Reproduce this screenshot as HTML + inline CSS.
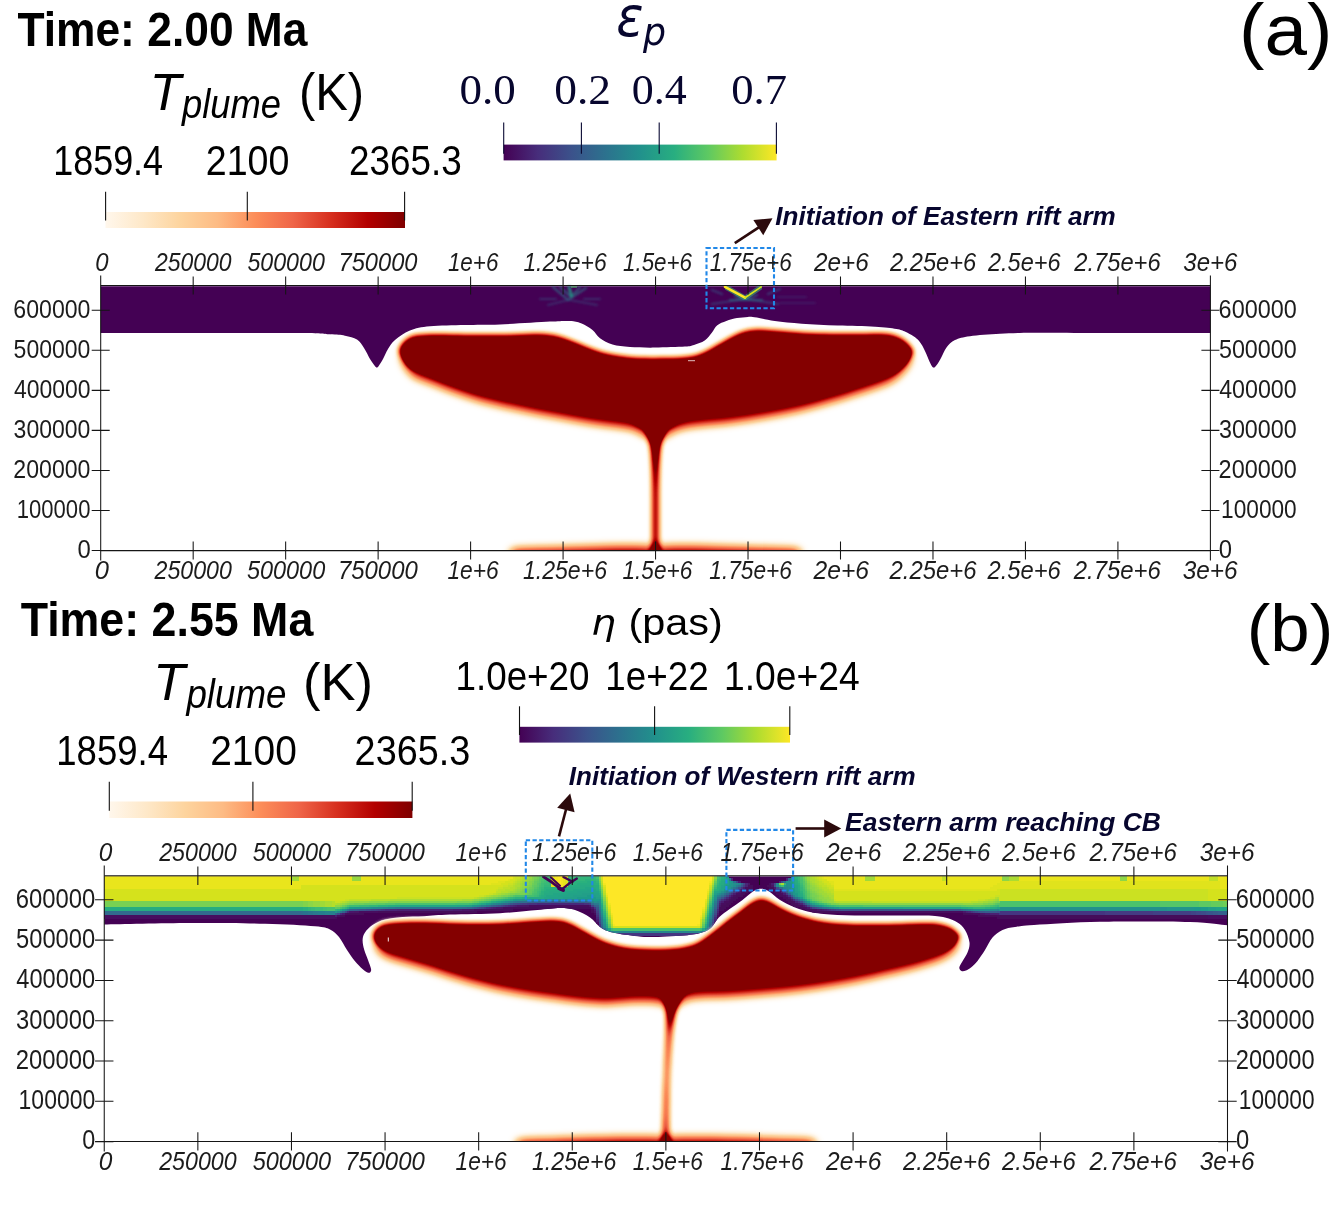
<!DOCTYPE html>
<html lang="en"><head><meta charset="utf-8"><title>Plume-lithosphere interaction: rift arm initiation</title>
<style>html,body{margin:0;padding:0;background:#fff}body{width:1335px;height:1209px}svg{display:block}</style></head>
<body>
<svg width="1335" height="1209" viewBox="0 0 1335 1209">
<defs>
<linearGradient id="orrd" x1="0" x2="1" y1="0" y2="0">
<stop offset="0" stop-color="#fff7ec"/><stop offset=".125" stop-color="#fee8c8"/><stop offset=".25" stop-color="#fdd49e"/>
<stop offset=".375" stop-color="#fdbb84"/><stop offset=".5" stop-color="#fc8d59"/><stop offset=".625" stop-color="#ef6548"/>
<stop offset=".75" stop-color="#d7301f"/><stop offset=".875" stop-color="#b30000"/><stop offset="1" stop-color="#7f0000"/>
</linearGradient>
<linearGradient id="vir" x1="0" x2="1" y1="0" y2="0">
<stop offset="0" stop-color="#440154"/><stop offset=".125" stop-color="#472d7b"/><stop offset=".25" stop-color="#3b528b"/>
<stop offset=".375" stop-color="#2c728e"/><stop offset=".5" stop-color="#21918c"/><stop offset=".625" stop-color="#28ae80"/>
<stop offset=".75" stop-color="#5ec962"/><stop offset=".875" stop-color="#addc30"/><stop offset="1" stop-color="#fde725"/>
</linearGradient>
</defs>
<defs>
<filter id="pfA" filterUnits="userSpaceOnUse" x="380" y="310" width="560" height="260" color-interpolation-filters="sRGB"><feColorMatrix in="SourceGraphic" type="matrix" values="0 0 0 0 0  0 0 0 0 0  0 0 0 0 0  1 0 0 1 -1" result="aR"/><feGaussianBlur in="aR" stdDeviation="2.5" result="bR"/><feColorMatrix in="SourceGraphic" type="matrix" values="0 0 0 0 0  0 0 0 0 0  0 0 0 0 0  0 1 0 1 -1" result="aG"/><feGaussianBlur in="aG" stdDeviation="3.0" result="bG"/><feColorMatrix in="SourceGraphic" type="matrix" values="0 0 0 0 0  0 0 0 0 0  0 0 0 0 0  0 0 1 1 -1" result="aB"/><feGaussianBlur in="aB" stdDeviation="4.8" result="bB"/><feComposite in="bR" in2="bG" operator="arithmetic" k1="0" k2="1" k3="2.0" k4="0" result="s1"/><feComposite in="s1" in2="bB" operator="arithmetic" k1="0" k2="1" k3="1" k4="0" result="s2"/><feColorMatrix in="s2" type="matrix" values="0 0 0 1 0  0 0 0 1 0  0 0 0 1 0  0 0 0 1 0" result="g"/><feComponentTransfer in="g"><feFuncR type="table" tableValues="1 .996 .992 .992 .988 .937 .843 .702 .52"/><feFuncG type="table" tableValues=".969 .91 .831 .733 .553 .396 .188 0 0"/><feFuncB type="table" tableValues=".925 .784 .62 .518 .349 .282 .122 0 0"/><feFuncA type="table" tableValues="0 .55 .85 1 1 1 1 1 1 1 1 1 1"/></feComponentTransfer></filter>
<filter id="pfB" filterUnits="userSpaceOnUse" x="350" y="880" width="640" height="285" color-interpolation-filters="sRGB"><feColorMatrix in="SourceGraphic" type="matrix" values="0 0 0 0 0  0 0 0 0 0  0 0 0 0 0  1 0 0 1 -1" result="aR"/><feGaussianBlur in="aR" stdDeviation="2.5" result="bR"/><feColorMatrix in="SourceGraphic" type="matrix" values="0 0 0 0 0  0 0 0 0 0  0 0 0 0 0  0 1 0 1 -1" result="aG"/><feGaussianBlur in="aG" stdDeviation="3.0" result="bG"/><feColorMatrix in="SourceGraphic" type="matrix" values="0 0 0 0 0  0 0 0 0 0  0 0 0 0 0  0 0 1 1 -1" result="aB"/><feGaussianBlur in="aB" stdDeviation="4.8" result="bB"/><feComposite in="bR" in2="bG" operator="arithmetic" k1="0" k2="1" k3="2.0" k4="0" result="s1"/><feComposite in="s1" in2="bB" operator="arithmetic" k1="0" k2="1" k3="1" k4="0" result="s2"/><feColorMatrix in="s2" type="matrix" values="0 0 0 1 0  0 0 0 1 0  0 0 0 1 0  0 0 0 1 0" result="g"/><feComponentTransfer in="g"><feFuncR type="table" tableValues="1 .996 .992 .992 .988 .937 .843 .702 .52"/><feFuncG type="table" tableValues=".969 .91 .831 .733 .553 .396 .188 0 0"/><feFuncB type="table" tableValues=".925 .784 .62 .518 .349 .282 .122 0 0"/><feFuncA type="table" tableValues="0 .55 .85 1 1 1 1 1 1 1 1 1 1"/></feComponentTransfer></filter>
<path id="PA" d="M398 356C398 353.6 398.7 350.3 399.5 348C400.3 345.7 401.4 343.8 403 342C404.6 340.2 406.5 338.3 409 337C411.5 335.7 413.5 334.9 418 334.3C422.5 333.7 427 333.5 436 333.4C445 333.3 460 333.8 472 333.9C484 334 497.5 334 508 333.9C518.5 333.8 527.3 332.9 534.8 333C542.3 333.1 546.8 333.2 552.8 334.3C558.8 335.4 564.8 337.6 570.8 339.7C576.8 341.8 582.8 344.7 588.8 346.9C594.8 349.1 600.7 351.3 606.7 352.8C612.7 354.3 619.2 355.1 624.7 355.8C630.2 356.5 633 356.9 640 357.1C647 357.3 658.6 357.3 667 357.1C675.4 356.9 684 356.8 690.3 355.8C696.6 354.8 699.9 353.4 704.7 351.3C709.5 349.2 714.3 346 719.1 343.3C723.9 340.6 729.3 337.3 733.5 335.2C737.7 333.1 740.7 331.8 744.3 330.7C747.9 329.6 750.8 329.1 755 328.9C759.2 328.7 763.1 329 769.4 329.4C775.7 329.8 784.4 330.6 792.8 331.2C801.2 331.8 809.3 332.5 819.8 332.8C830.3 333.1 845.7 333 855.7 333C865.7 333 874 332.6 880 332.8C886 333 888.5 333.2 892 334C895.5 334.8 898.2 335.9 901 337.5C903.8 339.1 906.5 341.4 908.5 343.5C910.5 345.6 912 347.8 913 350C914 352.2 914.4 354.7 914.3 357C914.2 359.3 913.7 361.6 912.5 364C911.3 366.4 909.1 369.2 907 371.5C904.9 373.8 902.5 376.1 900 378C897.5 379.9 896 381.2 892 383C888 384.8 884.4 386 875.7 388.9C867 391.8 851.8 396.9 839.8 400.5C827.8 404.1 815.8 407.5 803.8 410.4C791.8 413.2 779.9 415.5 767.9 417.6C755.9 419.7 743.9 421.5 731.9 423C719.9 424.5 705 425.3 696 426.6C687 427.9 682.5 429.4 678 431C673.5 432.6 672.8 434.5 669 436C665.2 437.5 660 440 655.5 440C651 440 646.1 437.6 642 436C637.9 434.4 635.2 431.6 631 430.2C626.8 428.8 623.6 428.5 616.7 427.5C609.8 426.5 600.3 425.6 589.8 424C579.3 422.4 565.8 419.9 553.8 417.6C541.8 415.3 529.9 412.9 517.9 410.4C505.9 407.9 490.9 404.6 481.9 402.4C472.9 400.2 470 398.9 464 397C458 395.1 451 392.6 446 390.8C441 389 438 387.6 434 386C430 384.4 426 383.1 422 381.5C418 379.9 413.2 378.6 410 376.5C406.8 374.4 404.8 371.3 403 369C401.2 366.7 400.3 364.7 399.5 362.5C398.7 360.3 398 358.4 398 356Z"/><path id="PB" d="M372.6 940.4C372.5 938.1 372.7 936.6 373 935C373.3 933.4 373.3 932.2 374.4 930.6C375.5 929 377.4 926.6 379.8 925.2C382.2 923.9 384.6 923.2 388.8 922.5C393 921.8 397.8 921.4 405 921.2C412.2 921 421.5 921 432 921.2C442.5 921.4 455.9 922.4 467.9 922.5C479.9 922.6 493.3 922.3 503.8 921.9C514.3 921.5 523.3 920.6 530.8 920.1C538.3 919.6 543.7 919 548.8 918.9C553.9 918.8 557.4 919 561.3 919.8C565.2 920.5 568.1 921.6 572 923.4C575.9 925.2 580.9 928.5 584.7 930.6C588.5 932.7 591.1 934.3 595 936.2C598.9 938.1 602.8 940.3 608 942C613.2 943.7 618.5 945.5 626 946.5C633.5 947.5 644 948.2 653 948.3C662 948.4 672.4 947.9 679.9 946.9C687.4 945.9 692.5 944.5 697.9 942C703.3 939.5 707.4 935.7 712.2 932.1C717 928.5 721.8 924.1 726.6 920.4C731.4 916.7 736.8 912.8 741 909.7C745.2 906.6 749.1 903.4 751.8 901.6C754.5 899.8 755.5 899.6 757 899C758.5 898.4 759.5 898 760.8 898C762.1 898 763.5 898.3 765 898.8C766.5 899.2 766.6 899 769.8 900.7C773 902.4 778.8 906.2 784.2 908.8C789.6 911.3 795 913.9 802.1 916C809.2 918.1 818.4 920.4 827 921.6C835.6 922.8 843.5 923.1 854 923.4C864.5 923.7 878 923.5 890 923.4C902 923.2 917.4 922.5 925.8 922.5C934.2 922.5 936 922.6 940.2 923.4C944.4 924.1 948 925.4 951 927C954 928.6 956.5 931.1 958.2 933.3C959.9 935.5 961.3 937.9 961.4 940.4C961.5 942.9 960.4 946.1 959 948.5C957.6 950.9 955.9 952.7 952.8 954.8C949.7 956.9 946.2 958.9 940.2 961.1C934.2 963.4 925.3 966 916.9 968.3C908.5 970.5 896.9 973 890 974.6C883.1 976.2 884.1 976.2 875.7 977.9C867.3 979.6 851.8 982.9 839.8 985C827.8 987.1 815.8 988.9 803.8 990.4C791.8 991.9 779.9 993 767.9 994C755.9 995 742.4 996.1 731.9 996.7C721.4 997.3 711.9 997.2 705 997.6C698.1 998 694.5 998.3 690.6 999.4C686.7 1000.5 685 1002.8 681.6 1004C678.2 1005.2 674.3 1006.5 670.5 1006.5C666.7 1006.5 662.1 1004.6 659 1004C655.9 1003.4 655.6 1002.9 652.1 1002.6C648.6 1002.3 644.7 1001.9 637.8 1002.1C630.9 1002.3 619.8 1003.8 610.8 1003.9C601.8 1004 594.3 1003.9 583.8 1003C573.3 1002.1 559.9 1000.1 547.9 998.5C535.9 996.9 524 995.4 512 993.1C500 990.9 488 988.1 476 985C464 981.9 447.3 976.6 440 974.4C432.7 972.2 437.8 973.6 432 971.8C426.2 970 412.5 966 405 963.8C397.5 961.6 391.5 960 387 958.4C382.5 956.8 380.2 955.6 378 954C375.8 952.4 374.4 950.8 373.5 948.5C372.6 946.2 372.7 942.6 372.6 940.4Z"/>
<clipPath id="cA1"><use href="#PA" transform="translate(0 -10)"/></clipPath><clipPath id="cA2"><use href="#PA" transform="translate(0 8)"/></clipPath><clipPath id="cA3"><use href="#PA" transform="translate(-3.5 0)"/></clipPath><clipPath id="cA4"><use href="#PA" transform="translate(3.5 0)"/></clipPath>
<clipPath id="cB1"><use href="#PB" transform="translate(0 -10)"/></clipPath><clipPath id="cB2"><use href="#PB" transform="translate(0 8)"/></clipPath><clipPath id="cB3"><use href="#PB" transform="translate(-3.5 0)"/></clipPath><clipPath id="cB4"><use href="#PB" transform="translate(3.5 0)"/></clipPath>
<clipPath id="clA"><rect x="380" y="300" width="560" height="250.6"/></clipPath>
<clipPath id="clB"><rect x="350" y="880" width="640" height="261.4"/></clipPath>
<clipPath id="bandB"><path d="M104.2 876.2L1227.5 876.2L1227.5 925.3C1221.2 924.8 1211.2 922.6 1190 922C1168.8 921.4 1126 921.3 1100 921.8C1074 922.3 1048.2 924.1 1034 925C1019.8 925.9 1020.2 926.2 1015 927C1009.8 927.8 1006.2 928.2 1002.5 930C998.8 931.8 995.4 934.2 992.5 937.5C989.6 940.8 987.5 946.1 985 950C982.5 953.9 979.8 958.1 977.5 961C975.2 963.9 972.9 965.9 971 967.5C969.1 969.1 967.6 969.9 966 970.5C964.4 971.1 962.6 971.5 961.5 971C960.4 970.5 959.1 969.1 959.3 967.5C959.5 965.9 961.1 963.8 962.5 961.3C963.9 958.8 966.3 955.6 967.5 952.5C968.7 949.4 969.9 946.2 969.5 942.5C969.1 938.8 967 933.3 965 930C963 926.7 960.8 924.6 957.5 922.5C954.2 920.4 950.4 918.7 945 917.5C939.6 916.3 936.7 915.8 925 915.5C913.3 915.2 889.6 915.6 875 915.5C860.4 915.4 847.9 915.5 837.5 915C827.1 914.5 819.6 913.8 812.5 912.5C805.4 911.2 800.4 909.6 795 907.5C789.6 905.4 784.4 902.7 780 900C775.6 897.3 771.9 893.1 768.8 891.2C765.7 889.3 763.8 888.7 761.3 888.7C758.8 888.7 756.9 889.1 753.8 891C750.7 892.9 746.5 897 742.5 900C738.5 903 734 905.9 730 908.8C726 911.7 722 914.3 718.8 917.5C715.6 920.7 713.8 925.5 711 928C708.2 930.5 705.9 931.4 702 932.6C698.1 933.8 695.3 934.5 687.5 935.2C679.7 935.9 663.3 936.8 655 937C646.7 937.2 644.6 937 637.5 936.2C630.4 935.5 618.8 934 612.5 932.5C606.2 931 603.8 929.5 600 927C596.2 924.5 594.2 920.3 590 917.5C585.8 914.7 580 911.6 575 910C570 908.4 566.2 908 560 908C553.8 908 547.5 909.1 537.5 910C527.5 910.9 514.6 912.4 500 913.2C485.4 914 462.7 914.1 450 914.6C437.3 915.1 431.9 915.8 424 916.2C416.1 916.6 409 916.5 402.5 917C396 917.5 390 918.2 385 919.5C380 920.8 375.8 922.8 372.5 925C369.2 927.2 366.6 930 365 932.5C363.4 935 362.7 937.1 362.6 940C362.5 942.9 363.4 946.7 364.3 950C365.2 953.3 366.9 956.9 368 960C369.1 963.1 370.6 966.8 371 968.8C371.4 970.8 370.9 971.6 370.3 972.2C369.7 972.8 368.8 973 367.5 972.5C366.2 972 364.6 970.9 362.5 969C360.4 967.1 357.6 964.5 355 961.3C352.4 958.1 349.7 954 347 950C344.3 946 341.8 940.4 339 937C336.2 933.6 334 931.3 330 929.5C326 927.7 325.8 927.2 315 926.3C304.2 925.3 285.8 924.3 265 923.8C244.2 923.2 216.8 922.9 190 923C163.2 923.1 118.5 924.2 104.2 924.5Z"/></clipPath>
<filter id="soft" x="-2%" y="-10%" width="104%" height="120%"><feGaussianBlur stdDeviation="0.7"/></filter>
<filter id="soft2" x="-20%" y="-20%" width="140%" height="140%"><feGaussianBlur stdDeviation="1.3"/></filter>
</defs>
<path d="M100.7 286.2L1210.4 286.2L1210.4 333C1192 333 1129.4 333 1100 333C1070.6 333 1050.7 332.7 1034 332.8C1017.3 332.9 1010.7 333.2 1000 333.8C989.3 334.4 977.5 335.2 970 336.2C962.5 337.2 958.9 338.1 955 340C951.1 341.9 948.8 344.5 946.5 347.5C944.2 350.5 942.7 355 941 358C939.3 361 937.8 363.7 936.5 365.3C935.2 366.9 934.5 367.8 933.5 367.6C932.5 367.4 931.7 365.9 930.8 364.3C929.9 362.7 928.8 359.9 927.9 357.8C927 355.7 926.1 353.4 925.2 351.5C924.3 349.6 923.5 347.9 922.5 346.1C921.5 344.3 920.4 342.4 918.9 340.7C917.4 339 915.8 337.7 913.5 336.2C911.2 334.7 908.2 332.9 905.4 331.7C902.5 330.5 901.5 329.8 896.4 329C891.3 328.2 884.8 327.4 875 326.8C865.2 326.2 850 326.1 837.8 325.6C825.6 325.1 812.3 324.6 801.8 323.8C791.3 323.1 782.3 322.1 774.8 321.1C767.3 320.1 761.4 318.3 756.9 317.6C752.4 316.9 751.2 316.8 747.9 316.9C744.6 317 740.6 317.4 737 318.1C733.4 318.8 729.6 319.9 726.3 321.1C723 322.3 719.7 323.4 717.3 325.3C714.9 327.2 714.1 329.9 712 332.5C709.9 335.1 707.7 338.5 704.7 340.6C701.7 342.7 697.3 344 694 345C690.7 346 691.5 346.2 685 346.6C678.5 347 664.2 347.5 655 347.6C645.8 347.7 637.1 347.5 630 347C622.9 346.5 617.5 345.9 612.5 344.5C607.5 343.1 603.3 340.7 600 338.3C596.7 335.9 595.7 332.5 592.5 330C589.3 327.5 584.8 324.8 581 323.3C577.2 321.8 575.2 321.3 570 321C564.8 320.7 561.7 321 550 321.6C538.3 322.2 514.2 323.9 500 324.5C485.8 325.1 476.7 324.7 465 325C453.3 325.3 439.2 325.4 430 326.3C420.8 327.2 415.8 328.2 410 330.5C404.2 332.8 398.7 336.9 395 340C391.3 343.1 390 345.8 388 349C386 352.2 384.5 356.2 383 359C381.5 361.8 380 364.1 379 365.5C378 366.9 377.6 367.6 376.8 367.6C376.1 367.6 375.6 366.9 374.5 365.5C373.4 364.1 371.8 361.9 370 359C368.2 356.1 366.2 351.2 364 348C361.8 344.8 360.2 341.6 357 339.5C353.8 337.4 349.5 336.6 345 335.7C340.5 334.8 337.5 334.8 330 334.3C322.5 333.9 321.7 333.2 300 333C278.3 332.8 233.2 333 200 333C166.8 333 117.2 333 100.7 333Z" fill="#440154"/>
<g filter="url(#soft2)" fill="none" stroke-linecap="round"><path d="M553 287L568 300L586 288M560 287L571 297L580 287" stroke="#2d7e8e" stroke-width="2.4" opacity=".55"/><path d="M568 300L548 305M570 300L597 305M540 299H556M584 299H600" stroke="#33638d" stroke-width="2" opacity=".4"/><path d="M569 287L571.5 296" stroke="#1fa187" stroke-width="3.2" opacity=".75"/><path d="M745 299L712 304M745 299L778 304M722 294L712 290M768 294L780 289" stroke="#33638d" stroke-width="2.2" opacity=".5"/><path d="M730 300H762M735 296L745 300L757 295" stroke="#26828e" stroke-width="2.2" opacity=".55"/><path d="M778 297H806M780 303H815" stroke="#3e4a89" stroke-width="2" opacity=".3"/></g>
<path d="M571 286.3h6v1.3h-6z" fill="#4ec36b" opacity=".85"/>
<g fill="none" stroke-linecap="round" stroke-linejoin="round"><path d="M726 287.3L745 298L761 287" stroke="#35b779" stroke-width="5" opacity=".55" filter="url(#soft)"/><path d="M725 286.9L745 297.6" stroke="#fde725" stroke-width="2.7"/><path d="M745 297.8L761.2 286.9" stroke="#d2e21b" stroke-width="1.7"/></g>
<g clip-path="url(#clA)">
<g filter="url(#pfA)"><g clip-path="url(#cA1)"><use href="#PA" fill="#f00"/></g><g style="mix-blend-mode:screen" clip-path="url(#cA3)"><g clip-path="url(#cA4)"><use href="#PA" fill="#00f" clip-path="url(#cA2)"/></g></g><path fill="#0f0" style="mix-blend-mode:screen" d="M645 420C645.4 421.3 646.5 425.3 647.3 428C648 430.7 648.8 433.2 649.5 436C650.2 438.8 650.8 441.8 651.3 445C651.8 448.2 652.2 450.8 652.5 455C652.8 459.2 653.1 465 653.3 470C653.5 475 653.5 480 653.6 485C653.7 490 653.7 494.2 653.7 500C653.7 505.8 653.7 514.2 653.7 520C653.7 525.8 653.7 530.8 653.7 535C653.7 539.2 653.7 542.2 653.6 545C653.6 547.8 653.6 549.5 653.5 552C653.4 554.5 653.3 558.7 653.3 560L657.7 560C657.7 558.7 657.6 554.5 657.5 552C657.4 549.5 657.4 547.8 657.4 545C657.3 542.2 657.3 539.2 657.3 535C657.3 530.8 657.3 525.8 657.3 520C657.3 514.2 657.3 505.8 657.3 500C657.3 494.2 657.3 490 657.4 485C657.5 480 657.5 475 657.7 470C657.9 465 658.2 459.2 658.5 455C658.8 450.8 659.2 448.2 659.7 445C660.2 441.8 660.8 438.8 661.5 436C662.2 433.2 663 430.7 663.7 428C664.5 425.3 665.6 421.3 666 420Z"/><path fill="#00f" style="mix-blend-mode:screen" d="M510.5 551C511.3 550.7 509.7 549.5 515.5 549C521.3 548.5 533.8 548.3 545.5 548C557.2 547.7 574.7 547.3 585.5 547C596.3 546.7 603 546.4 610.5 546.3C618 546.1 625.5 546.1 630.5 546.1C635.5 546.1 638 546.2 640.5 546.2C643 546.2 643.8 546.3 645.5 546.4C647.2 546.5 648.8 546.7 650.5 546.8C652.2 546.9 654.7 547.1 655.5 547.2C656.3 547.3 654.7 547.3 655.5 547.2C656.3 547.1 658.8 546.9 660.5 546.8C662.2 546.7 663.8 546.5 665.5 546.4C667.2 546.3 668 546.2 670.5 546.2C673 546.2 675.5 546.1 680.5 546.1C685.5 546.1 693 546.1 700.5 546.3C708 546.4 714.7 546.7 725.5 547C736.3 547.3 753.8 547.7 765.5 548C777.2 548.3 789.7 548.5 795.5 549C801.3 549.5 799.7 550.7 800.5 551L800.5 562.6L510.5 562.6Z"/></g>
</g>
<rect x="688" y="360.2" width="7" height="1" fill="#fff" opacity=".75"/>
<g clip-path="url(#bandB)">
<rect x="104.2" y="876.2" width="1123.2" height="105" fill="#440154"/>
<g filter="url(#soft)"><g shape-rendering="crispEdges"><path fill="#45075a" d="M769 882.6h2.7v2.4h-2.7zM749.8 884.7h2.7v2.4h-2.7zM766.6 884.7h5.1v2.4h-5.1zM747.4 886.9h5.1v2.4h-5.1zM769 886.9h5.1v2.4h-5.1zM745 889h5.1v2.3h-5.1zM771.4 889h5.1v2.3h-5.1zM742.6 891h5.1v2.3h-5.1zM773.8 891h5.1v2.3h-5.1zM740.2 893h5.1v2.3h-5.1zM776.2 893h5.1v2.3h-5.1zM735.4 895h7.5v2.3h-7.5zM778.6 895h5.1v2.3h-5.1zM733 897h5.1v2.3h-5.1zM783.4 897h5.1v2.3h-5.1zM730.6 899h5.1v2.3h-5.1zM785.8 899h5.1v2.3h-5.1zM728.2 901h5.1v2.1h-5.1zM788.2 901h5.1v2.1h-5.1zM725.8 902.8h5.1v2.1h-5.1zM790.6 902.8h5.1v2.1h-5.1zM721 904.5h7.5v2.1h-7.5zM793 904.5h7.5v2.1h-7.5zM512.2 906.3h79.5v2.4h-79.5zM718.6 906.3h7.5v2.4h-7.5zM800.2 906.3h5.1v2.4h-5.1zM485.8 908.4h26.7v2.4h-26.7zM591.4 908.4h2.7v2.4h-2.7zM718.6 908.4h5.1v2.4h-5.1zM805 908.4h7.5v2.4h-7.5zM377.8 910.5h98.7v2.2h-98.7zM591.4 910.5h2.7v2.2h-2.7zM812.2 910.5h26.7v2.2h-26.7zM346.6 912.5h17.1v2.2h-17.1zM593.8 912.5h2.7v2.2h-2.7zM963.4 912.5h9.9v2.2h-9.9zM339.4 914.4h5.1v2.6h-5.1zM716.2 914.4h2.7v2.6h-2.7zM977.8 914.4h19.5v2.6h-19.5zM999.4 914.4h209.1v2.6h-209.1zM334.6 916.7h2.7v2.6h-2.7zM997 916.7h211.5v2.6h-211.5zM713.8 923.4h2.7v2.6h-2.7zM704.2 933h2.7v2.8h-2.7z"/><path fill="#460d5f" d="M747.4 884.7h2.7v2.4h-2.7zM745 886.9h2.7v2.4h-2.7zM742.6 889h2.7v2.3h-2.7zM776.2 889h2.7v2.3h-2.7zM740.2 891h2.7v2.3h-2.7zM778.6 891h2.7v2.3h-2.7zM735.4 893h5.1v2.3h-5.1zM781 893h2.7v2.3h-2.7zM733 895h2.7v2.3h-2.7zM783.4 895h2.7v2.3h-2.7zM730.6 897h2.7v2.3h-2.7zM728.2 899h2.7v2.3h-2.7zM723.4 901h5.1v2.1h-5.1zM793 901h2.7v2.1h-2.7zM721 902.8h5.1v2.1h-5.1zM795.4 902.8h2.7v2.1h-2.7zM529 904.5h60.3v2.1h-60.3zM800.2 904.5h2.7v2.1h-2.7zM502.6 906.3h9.9v2.4h-9.9zM805 906.3h2.7v2.4h-2.7zM473.8 908.4h12.3v2.4h-12.3zM812.2 908.4h5.1v2.4h-5.1zM358.6 910.5h19.5v2.2h-19.5zM838.6 910.5h125.1v2.2h-125.1zM344.2 912.5h2.7v2.2h-2.7zM973 912.5h7.5v2.2h-7.5zM104.2 914.4h230.7v2.6h-230.7zM337 914.4h2.7v2.6h-2.7zM997 914.4h2.7v2.6h-2.7zM1208.2 914.4h19.6v2.6h-19.6zM104.2 916.7h230.7v2.6h-230.7zM1208.2 916.7h19.6v2.6h-19.6zM596.2 921.2h2.7v2.5h-2.7z"/><path fill="#481365" d="M747.4 882.6h2.7v2.4h-2.7zM771.4 884.7h2.7v2.4h-2.7zM737.8 891h2.7v2.3h-2.7zM728.2 897h2.7v2.3h-2.7zM788.2 897h2.7v2.3h-2.7zM725.8 899h2.7v2.3h-2.7zM790.6 899h2.7v2.3h-2.7zM797.8 902.8h2.7v2.1h-2.7zM524.2 904.5h5.1v2.1h-5.1zM589 904.5h2.7v2.1h-2.7zM718.6 904.5h2.7v2.1h-2.7zM500.2 906.3h2.7v2.4h-2.7zM469 908.4h5.1v2.4h-5.1zM817 908.4h2.7v2.4h-2.7zM353.8 910.5h5.1v2.2h-5.1zM593.8 910.5h2.7v2.2h-2.7zM980.2 912.5h2.7v2.2h-2.7zM713.8 921.2h2.7v2.5h-2.7zM601 930.5h2.7v2.8h-2.7zM709 930.5h2.7v2.8h-2.7z"/><path fill="#48186a" d="M740.2 889h2.7v2.3h-2.7zM730.6 895h2.7v2.3h-2.7zM785.8 895h2.7v2.3h-2.7zM517 904.5h7.5v2.1h-7.5zM802.6 904.5h2.7v2.1h-2.7zM495.4 906.3h5.1v2.4h-5.1zM591.4 906.3h2.7v2.4h-2.7zM807.4 906.3h2.7v2.4h-2.7zM461.8 908.4h7.5v2.4h-7.5zM819.4 908.4h2.7v2.4h-2.7zM349 910.5h5.1v2.2h-5.1zM963.4 910.5h2.7v2.2h-2.7zM716.2 912.5h2.7v2.2h-2.7zM982.6 912.5h2.7v2.2h-2.7zM598.6 928h2.7v2.8h-2.7zM711.4 928h2.7v2.8h-2.7z"/><path fill="#481d6f" d="M737.8 880.5h2.7v2.4h-2.7zM771.4 882.6h2.7v2.4h-2.7zM742.6 886.9h2.7v2.4h-2.7zM773.8 886.9h2.7v2.4h-2.7zM733 893h2.7v2.3h-2.7zM783.4 893h2.7v2.3h-2.7zM721 901h2.7v2.1h-2.7zM718.6 902.8h2.7v2.1h-2.7zM514.6 904.5h2.7v2.1h-2.7zM493 906.3h2.7v2.4h-2.7zM452.2 908.4h9.9v2.4h-9.9zM593.8 908.4h2.7v2.4h-2.7zM821.8 908.4h2.7v2.4h-2.7zM341.8 912.5h2.7v2.2h-2.7zM985 912.5h5.1v2.2h-5.1zM334.6 914.4h2.7v2.6h-2.7zM596.2 919h2.7v2.5h-2.7zM608.2 933h2.7v2.8h-2.7zM701.8 933h2.7v2.8h-2.7z"/><path fill="#482273" d="M778.6 880.5h2.7v2.4h-2.7zM745 884.7h2.7v2.4h-2.7zM735.4 891h2.7v2.3h-2.7zM781 891h2.7v2.3h-2.7zM723.4 899h2.7v2.3h-2.7zM795.4 901h2.7v2.1h-2.7zM800.2 902.8h2.7v2.1h-2.7zM512.2 904.5h2.7v2.1h-2.7zM490.6 906.3h2.7v2.4h-2.7zM397 908.4h55.5v2.4h-55.5zM824.2 908.4h2.7v2.4h-2.7zM716.2 910.5h2.7v2.2h-2.7zM965.8 910.5h2.7v2.2h-2.7zM989.8 912.5h9.9v2.2h-9.9zM713.8 919h2.7v2.5h-2.7z"/><path fill="#482778" d="M785.8 878.3h2.7v2.4h-2.7zM745 882.6h2.7v2.4h-2.7zM778.6 889h2.7v2.3h-2.7zM725.8 897h2.7v2.3h-2.7zM550.6 902.8h19.5v2.1h-19.5zM509.8 904.5h2.7v2.1h-2.7zM805 904.5h2.7v2.1h-2.7zM488.2 906.3h2.7v2.4h-2.7zM389.8 908.4h7.5v2.4h-7.5zM346.6 910.5h2.7v2.2h-2.7zM968.2 910.5h2.7v2.2h-2.7zM596.2 916.7h2.7v2.6h-2.7z"/><path fill="#472c7b" d="M730.6 878.3h2.7v2.4h-2.7zM737.8 889h2.7v2.3h-2.7zM728.2 895h2.7v2.3h-2.7zM793 899h2.7v2.3h-2.7zM718.6 901h2.7v2.1h-2.7zM536.2 902.8h14.7v2.1h-14.7zM569.8 902.8h14.7v2.1h-14.7zM507.4 904.5h2.7v2.1h-2.7zM485.8 906.3h2.7v2.4h-2.7zM809.8 906.3h2.7v2.4h-2.7zM385 908.4h5.1v2.4h-5.1zM716.2 908.4h2.7v2.4h-2.7zM826.6 908.4h2.7v2.4h-2.7zM339.4 912.5h2.7v2.2h-2.7zM713.8 916.7h2.7v2.6h-2.7zM610.6 933h2.7v2.8h-2.7zM699.4 933h2.7v2.8h-2.7z"/><path fill="#46317e" d="M740.2 886.9h2.7v2.4h-2.7zM730.6 893h2.7v2.3h-2.7zM790.6 897h2.7v2.3h-2.7zM721 899h2.7v2.3h-2.7zM797.8 901h2.7v2.1h-2.7zM529 902.8h7.5v2.1h-7.5zM584.2 902.8h5.1v2.1h-5.1zM505 904.5h2.7v2.1h-2.7zM382.6 908.4h2.7v2.4h-2.7zM829 908.4h2.7v2.4h-2.7zM970.6 910.5h2.7v2.2h-2.7zM596.2 914.4h2.7v2.6h-2.7zM598.6 925.7h2.7v2.6h-2.7zM711.4 925.7h2.7v2.6h-2.7z"/><path fill="#453681" d="M788.2 895h2.7v2.3h-2.7zM526.6 902.8h2.7v2.1h-2.7zM483.4 906.3h2.7v2.4h-2.7zM593.8 906.3h2.7v2.4h-2.7zM380.2 908.4h2.7v2.4h-2.7zM999.4 910.5h105.9v2.2h-105.9zM999.4 912.5h105.9v2.2h-105.9zM598.6 923.4h2.7v2.6h-2.7zM613 933h86.7v2.8h-86.7z"/><path fill="#443b83" d="M742.6 884.7h2.7v2.4h-2.7zM733 891h2.7v2.3h-2.7zM783.4 891h2.7v2.3h-2.7zM785.8 893h2.7v2.3h-2.7zM723.4 897h2.7v2.3h-2.7zM521.8 902.8h5.1v2.1h-5.1zM589 902.8h2.7v2.1h-2.7zM502.6 904.5h2.7v2.1h-2.7zM716.2 906.3h2.7v2.4h-2.7zM377.8 908.4h2.7v2.4h-2.7zM831.4 908.4h2.7v2.4h-2.7zM973 910.5h2.7v2.2h-2.7zM1105 910.5h48.3v2.2h-48.3zM596.2 912.5h2.7v2.2h-2.7zM1105 912.5h48.3v2.2h-48.3zM713.8 914.4h2.7v2.6h-2.7zM711.4 923.4h2.7v2.6h-2.7zM603.4 930.5h2.7v2.8h-2.7zM706.6 930.5h2.7v2.8h-2.7z"/><path fill="#424085" d="M519.4 902.8h2.7v2.1h-2.7zM802.6 902.8h2.7v2.1h-2.7zM591.4 904.5h2.7v2.1h-2.7zM481 906.3h2.7v2.4h-2.7zM812.2 906.3h2.7v2.4h-2.7zM375.4 908.4h2.7v2.4h-2.7zM833.8 908.4h2.7v2.4h-2.7zM1153 910.5h38.7v2.2h-38.7zM1153 912.5h38.7v2.2h-38.7z"/><path fill="#414587" d="M735.4 880.5h2.7v2.4h-2.7zM735.4 889h2.7v2.3h-2.7zM781 889h2.7v2.3h-2.7zM725.8 895h2.7v2.3h-2.7zM517 902.8h2.7v2.1h-2.7zM500.2 904.5h2.7v2.1h-2.7zM716.2 904.5h2.7v2.1h-2.7zM478.6 906.3h2.7v2.4h-2.7zM370.6 908.4h5.1v2.4h-5.1zM344.2 910.5h2.7v2.2h-2.7zM596.2 910.5h2.7v2.2h-2.7zM975.4 910.5h2.7v2.2h-2.7zM1191.4 910.5h5.1v2.2h-5.1zM1191.4 912.5h5.1v2.2h-5.1zM598.6 921.2h2.7v2.5h-2.7zM711.4 921.2h2.7v2.5h-2.7z"/><path fill="#3f4989" d="M742.6 882.6h2.7v2.4h-2.7zM773.8 882.6h2.7v2.4h-2.7zM728.2 893h2.7v2.3h-2.7zM718.6 899h2.7v2.3h-2.7zM795.4 899h2.7v2.3h-2.7zM514.6 902.8h2.7v2.1h-2.7zM807.4 904.5h2.7v2.1h-2.7zM814.6 906.3h2.7v2.4h-2.7zM368.2 908.4h2.7v2.4h-2.7zM836.2 908.4h2.7v2.4h-2.7zM1196.2 910.5h5.1v2.2h-5.1zM337 912.5h2.7v2.2h-2.7zM713.8 912.5h2.7v2.2h-2.7zM1196.2 912.5h5.1v2.2h-5.1zM601 928h2.7v2.8h-2.7zM709 928h2.7v2.8h-2.7z"/><path fill="#3d4e8a" d="M781 880.5h2.7v2.4h-2.7zM737.8 886.9h2.7v2.4h-2.7zM776.2 886.9h2.7v2.4h-2.7zM800.2 901h2.7v2.1h-2.7zM512.2 902.8h2.7v2.1h-2.7zM716.2 902.8h2.7v2.1h-2.7zM497.8 904.5h2.7v2.1h-2.7zM476.2 906.3h2.7v2.4h-2.7zM365.8 908.4h2.7v2.4h-2.7zM596.2 908.4h2.7v2.4h-2.7zM838.6 908.4h2.7v2.4h-2.7zM977.8 910.5h2.7v2.2h-2.7zM1201 910.5h5.1v2.2h-5.1zM1201 912.5h5.1v2.2h-5.1zM598.6 919h2.7v2.5h-2.7z"/><path fill="#3b528b" d="M730.6 891h2.7v2.3h-2.7zM721 897h2.7v2.3h-2.7zM495.4 904.5h2.7v2.1h-2.7zM361 908.4h5.1v2.4h-5.1zM841 908.4h45.9v2.4h-45.9zM713.8 910.5h2.7v2.2h-2.7zM980.2 910.5h2.7v2.2h-2.7zM1205.8 910.5h2.7v2.2h-2.7zM1205.8 912.5h2.7v2.2h-2.7zM711.4 919h2.7v2.5h-2.7z"/><path fill="#39578c" d="M740.2 884.7h2.7v2.4h-2.7zM773.8 884.7h2.7v2.4h-2.7zM716.2 901h2.7v2.1h-2.7zM509.8 902.8h2.7v2.1h-2.7zM473.8 906.3h2.7v2.4h-2.7zM596.2 906.3h2.7v2.4h-2.7zM817 906.3h2.7v2.4h-2.7zM358.6 908.4h2.7v2.4h-2.7zM886.6 908.4h53.1v2.4h-53.1zM982.6 910.5h2.7v2.2h-2.7zM997 910.5h2.7v2.2h-2.7zM1208.2 910.5h5.1v2.2h-5.1zM1208.2 912.5h5.1v2.2h-5.1zM598.6 916.7h2.7v2.6h-2.7zM605.8 930.5h2.7v2.8h-2.7zM704.2 930.5h2.7v2.8h-2.7z"/><path fill="#375a8c" d="M733 889h2.7v2.3h-2.7zM723.4 895h2.7v2.3h-2.7zM550.6 901h19.5v2.1h-19.5zM493 904.5h2.7v2.1h-2.7zM356.2 908.4h2.7v2.4h-2.7zM713.8 908.4h2.7v2.4h-2.7zM939.4 908.4h21.9v2.4h-21.9zM985 910.5h12.3v2.2h-12.3zM1213.1 910.5h5.1v2.2h-5.1zM1213.1 912.5h5.1v2.2h-5.1z"/><path fill="#355e8d" d="M790.6 895h2.7v2.3h-2.7zM793 897h2.7v2.3h-2.7zM716.2 899h2.7v2.3h-2.7zM541 901h9.9v2.1h-9.9zM569.8 901h9.9v2.1h-9.9zM805 902.8h2.7v2.1h-2.7zM593.8 904.5h2.7v2.1h-2.7zM471.4 906.3h2.7v2.4h-2.7zM351.4 908.4h5.1v2.4h-5.1zM1217.9 910.5h5.1v2.2h-5.1zM1217.9 912.5h5.1v2.2h-5.1zM598.6 914.4h2.7v2.6h-2.7zM711.4 916.7h2.7v2.6h-2.7zM601 925.7h2.7v2.6h-2.7zM709 925.7h2.7v2.6h-2.7z"/><path fill="#33628d" d="M785.8 891h2.7v2.3h-2.7zM725.8 893h2.7v2.3h-2.7zM788.2 893h2.7v2.3h-2.7zM797.8 899h2.7v2.3h-2.7zM531.4 901h9.9v2.1h-9.9zM579.4 901h7.5v2.1h-7.5zM507.4 902.8h2.7v2.1h-2.7zM490.6 904.5h2.7v2.1h-2.7zM819.4 906.3h2.7v2.4h-2.7zM349 908.4h2.7v2.4h-2.7zM341.8 910.5h2.7v2.2h-2.7zM1222.7 910.5h5.1v2.2h-5.1zM334.6 912.5h2.7v2.2h-2.7zM1222.7 912.5h5.1v2.2h-5.1z"/><path fill="#32668d" d="M740.2 882.6h2.7v2.4h-2.7zM735.4 886.9h2.7v2.4h-2.7zM783.4 889h2.7v2.3h-2.7zM718.6 897h2.7v2.3h-2.7zM526.6 901h5.1v2.1h-5.1zM586.6 901h2.7v2.1h-2.7zM596.2 904.5h2.7v2.1h-2.7zM466.6 906.3h5.1v2.4h-5.1zM713.8 906.3h2.7v2.4h-2.7zM961 908.4h2.7v2.4h-2.7zM1227.5 910.5h0.3v2.2h-0.3zM598.6 912.5h2.7v2.2h-2.7zM1227.5 912.5h0.3v2.2h-0.3zM711.4 914.4h2.7v2.6h-2.7zM601 923.4h2.7v2.6h-2.7zM709 923.4h2.7v2.6h-2.7z"/><path fill="#306a8e" d="M778.6 886.9h2.7v2.4h-2.7zM728.2 891h2.7v2.3h-2.7zM524.2 901h2.7v2.1h-2.7zM589 901h2.7v2.1h-2.7zM505 902.8h2.7v2.1h-2.7zM591.4 902.8h2.7v2.1h-2.7zM488.2 904.5h2.7v2.1h-2.7zM809.8 904.5h2.7v2.1h-2.7zM461.8 906.3h5.1v2.4h-5.1zM104.2 910.5h197.1v2.2h-197.1zM104.2 912.5h197.1v2.2h-197.1z"/><path fill="#2e6e8e" d="M783.4 880.5h2.7v2.4h-2.7zM737.8 884.7h2.7v2.4h-2.7zM781 886.9h2.7v2.4h-2.7zM730.6 889h2.7v2.3h-2.7zM721 895h2.7v2.3h-2.7zM716.2 897h2.7v2.3h-2.7zM519.4 901h5.1v2.1h-5.1zM802.6 901h2.7v2.1h-2.7zM502.6 902.8h2.7v2.1h-2.7zM713.8 904.5h2.7v2.1h-2.7zM457 906.3h5.1v2.4h-5.1zM821.8 906.3h2.7v2.4h-2.7zM963.4 908.4h2.7v2.4h-2.7zM301 910.5h2.7v2.2h-2.7zM598.6 910.5h2.7v2.2h-2.7zM301 912.5h2.7v2.2h-2.7zM601 921.2h2.7v2.5h-2.7zM709 921.2h2.7v2.5h-2.7zM603.4 928h2.7v2.8h-2.7zM706.6 928h2.7v2.8h-2.7zM608.2 930.5h2.7v2.8h-2.7zM701.8 930.5h2.7v2.8h-2.7z"/><path fill="#2c728e" d="M788.2 878.3h2.7v2.4h-2.7zM733 880.5h2.7v2.4h-2.7zM723.4 893h2.7v2.3h-2.7zM517 901h2.7v2.1h-2.7zM485.8 904.5h2.7v2.1h-2.7zM399.4 906.3h57.9v2.4h-57.9zM303.4 910.5h5.1v2.2h-5.1zM303.4 912.5h5.1v2.2h-5.1zM711.4 912.5h2.7v2.2h-2.7z"/><path fill="#2b758e" d="M733 886.9h2.7v2.4h-2.7zM795.4 897h2.7v2.3h-2.7zM514.6 901h2.7v2.1h-2.7zM500.2 902.8h2.7v2.1h-2.7zM713.8 902.8h2.7v2.1h-2.7zM394.6 906.3h5.1v2.4h-5.1zM824.2 906.3h2.7v2.4h-2.7zM346.6 908.4h2.7v2.4h-2.7zM598.6 908.4h2.7v2.4h-2.7zM965.8 908.4h2.7v2.4h-2.7zM308.2 910.5h5.1v2.2h-5.1zM339.4 910.5h2.7v2.2h-2.7zM308.2 912.5h5.1v2.2h-5.1zM601 919h2.7v2.5h-2.7z"/><path fill="#29798e" d="M728.2 878.3h2.7v2.4h-2.7zM725.8 891h2.7v2.3h-2.7zM718.6 895h2.7v2.3h-2.7zM800.2 899h2.7v2.3h-2.7zM512.2 901h2.7v2.1h-2.7zM593.8 902.8h5.1v2.1h-5.1zM807.4 902.8h2.7v2.1h-2.7zM483.4 904.5h2.7v2.1h-2.7zM812.2 904.5h2.7v2.1h-2.7zM392.2 906.3h2.7v2.4h-2.7zM968.2 908.4h2.7v2.4h-2.7zM313 910.5h5.1v2.2h-5.1zM711.4 910.5h2.7v2.2h-2.7zM313 912.5h5.1v2.2h-5.1zM709 919h2.7v2.5h-2.7z"/><path fill="#287d8e" d="M790.6 876.2h2.7v2.4h-2.7zM735.4 884.7h2.7v2.4h-2.7zM728.2 889h2.7v2.3h-2.7zM713.8 901h2.7v2.1h-2.7zM497.8 902.8h2.7v2.1h-2.7zM481 904.5h2.7v2.1h-2.7zM387.4 906.3h5.1v2.4h-5.1zM598.6 906.3h2.7v2.4h-2.7zM826.6 906.3h2.7v2.4h-2.7zM317.8 910.5h7.5v2.2h-7.5zM317.8 912.5h7.5v2.2h-7.5zM601 916.7h2.7v2.6h-2.7zM610.6 930.5h2.7v2.8h-2.7zM699.4 930.5h2.7v2.8h-2.7z"/><path fill="#26818e" d="M785.8 889h2.7v2.3h-2.7zM788.2 891h2.7v2.3h-2.7zM721 893h2.7v2.3h-2.7zM790.6 893h2.7v2.3h-2.7zM716.2 895h2.7v2.3h-2.7zM793 895h2.7v2.3h-2.7zM553 899h14.7v2.3h-14.7zM509.8 901h2.7v2.1h-2.7zM495.4 902.8h2.7v2.1h-2.7zM382.6 906.3h5.1v2.4h-5.1zM970.6 908.4h2.7v2.4h-2.7zM997 908.4h2.7v2.4h-2.7zM325 910.5h9.9v2.2h-9.9zM325 912.5h9.9v2.2h-9.9z"/><path fill="#25858d" d="M737.8 882.6h2.7v2.4h-2.7zM730.6 886.9h2.7v2.4h-2.7zM783.4 886.9h2.7v2.4h-2.7zM797.8 897h2.7v2.3h-2.7zM541 899h12.3v2.3h-12.3zM567.4 899h12.3v2.3h-12.3zM507.4 901h2.7v2.1h-2.7zM591.4 901h2.7v2.1h-2.7zM805 901h2.7v2.1h-2.7zM493 902.8h2.7v2.1h-2.7zM478.6 904.5h2.7v2.1h-2.7zM598.6 904.5h2.7v2.1h-2.7zM814.6 904.5h2.7v2.1h-2.7zM377.8 906.3h5.1v2.4h-5.1zM829 906.3h2.7v2.4h-2.7zM711.4 908.4h2.7v2.4h-2.7zM973 908.4h2.7v2.4h-2.7zM994.6 908.4h2.7v2.4h-2.7zM337 910.5h2.7v2.2h-2.7zM601 914.4h2.7v2.6h-2.7zM709 916.7h2.7v2.6h-2.7zM603.4 925.7h2.7v2.6h-2.7zM706.6 925.7h2.7v2.6h-2.7zM613 930.5h86.7v2.8h-86.7z"/><path fill="#23898d" d="M785.8 886.9h2.7v2.4h-2.7zM788.2 889h2.7v2.3h-2.7zM723.4 891h2.7v2.3h-2.7zM529 899h12.3v2.3h-12.3zM579.4 899h9.9v2.3h-9.9zM713.8 899h2.7v2.3h-2.7zM373 906.3h5.1v2.4h-5.1zM344.2 908.4h2.7v2.4h-2.7zM975.4 908.4h5.1v2.4h-5.1zM989.8 908.4h5.1v2.4h-5.1z"/><path fill="#228c8d" d="M735.4 882.6h2.7v2.4h-2.7zM776.2 882.6h2.7v2.4h-2.7zM733 884.7h2.7v2.4h-2.7zM776.2 884.7h2.7v2.4h-2.7zM785.8 884.7h2.7v2.4h-2.7zM788.2 886.9h2.7v2.4h-2.7zM725.8 889h2.7v2.3h-2.7zM790.6 891h2.7v2.3h-2.7zM718.6 893h2.7v2.3h-2.7zM526.6 899h2.7v2.3h-2.7zM589 899h2.7v2.3h-2.7zM505 901h2.7v2.1h-2.7zM596.2 901h2.7v2.1h-2.7zM490.6 902.8h2.7v2.1h-2.7zM598.6 902.8h2.7v2.1h-2.7zM476.2 904.5h2.7v2.1h-2.7zM817 904.5h2.7v2.1h-2.7zM370.6 906.3h2.7v2.4h-2.7zM711.4 906.3h2.7v2.4h-2.7zM831.4 906.3h2.7v2.4h-2.7zM980.2 908.4h9.9v2.4h-9.9zM601 912.5h2.7v2.2h-2.7zM709 914.4h2.7v2.6h-2.7zM603.4 923.4h2.7v2.6h-2.7zM706.6 923.4h2.7v2.6h-2.7zM605.8 928h2.7v2.8h-2.7zM704.2 928h2.7v2.8h-2.7z"/><path fill="#21908c" d="M725.8 876.2h2.7v2.4h-2.7zM733 882.6h2.7v2.4h-2.7zM785.8 882.6h5.1v2.4h-5.1zM788.2 884.7h2.7v2.4h-2.7zM790.6 889h2.7v2.3h-2.7zM713.8 897h2.7v2.3h-2.7zM521.8 899h5.1v2.3h-5.1zM802.6 899h2.7v2.3h-2.7zM593.8 901h2.7v2.1h-2.7zM598.6 901h2.7v2.1h-2.7zM809.8 902.8h2.7v2.1h-2.7zM473.8 904.5h2.7v2.1h-2.7zM365.8 906.3h5.1v2.4h-5.1zM999.4 906.3h168.3v2.4h-168.3zM999.4 908.4h168.3v2.4h-168.3z"/><path fill="#20948b" d="M785.8 880.5h5.1v2.4h-5.1zM730.6 882.6h2.7v2.4h-2.7zM730.6 884.7h2.7v2.4h-2.7zM728.2 886.9h2.7v2.4h-2.7zM790.6 886.9h2.7v2.4h-2.7zM721 891h2.7v2.3h-2.7zM716.2 893h2.7v2.3h-2.7zM793 893h2.7v2.3h-2.7zM795.4 895h2.7v2.3h-2.7zM517 899h5.1v2.3h-5.1zM502.6 901h2.7v2.1h-2.7zM488.2 902.8h2.7v2.1h-2.7zM711.4 904.5h2.7v2.1h-2.7zM361 906.3h5.1v2.4h-5.1zM833.8 906.3h2.7v2.4h-2.7zM1167.4 906.3h26.7v2.4h-26.7zM1167.4 908.4h26.7v2.4h-26.7zM334.6 910.5h2.7v2.2h-2.7zM601 910.5h2.7v2.2h-2.7zM603.4 921.2h2.7v2.5h-2.7zM706.6 921.2h2.7v2.5h-2.7z"/><path fill="#1f978b" d="M730.6 880.5h2.7v2.4h-2.7zM790.6 882.6h2.7v2.4h-2.7zM728.2 884.7h2.7v2.4h-2.7zM790.6 884.7h2.7v2.4h-2.7zM725.8 886.9h2.7v2.4h-2.7zM723.4 889h2.7v2.3h-2.7zM793 889h2.7v2.3h-2.7zM793 891h2.7v2.3h-2.7zM713.8 895h2.7v2.3h-2.7zM514.6 899h2.7v2.3h-2.7zM591.4 899h2.7v2.3h-2.7zM598.6 899h2.7v2.3h-2.7zM471.4 904.5h2.7v2.1h-2.7zM819.4 904.5h2.7v2.1h-2.7zM353.8 906.3h7.5v2.4h-7.5zM836.2 906.3h2.7v2.4h-2.7zM1193.8 906.3h7.5v2.4h-7.5zM341.8 908.4h2.7v2.4h-2.7zM1193.8 908.4h7.5v2.4h-7.5zM709 912.5h2.7v2.2h-2.7z"/><path fill="#1f9b89" d="M728.2 880.5h2.7v2.4h-2.7zM790.6 880.5h2.7v2.4h-2.7zM728.2 882.6h2.7v2.4h-2.7zM725.8 884.7h2.7v2.4h-2.7zM783.4 884.7h2.7v2.4h-2.7zM793 886.9h2.7v2.4h-2.7zM795.4 893h2.7v2.3h-2.7zM586.6 895h5.1v2.3h-5.1zM577 897h19.5v2.3h-19.5zM800.2 897h2.7v2.3h-2.7zM512.2 899h2.7v2.3h-2.7zM593.8 899h5.1v2.3h-5.1zM500.2 901h2.7v2.1h-2.7zM807.4 901h2.7v2.1h-2.7zM485.8 902.8h2.7v2.1h-2.7zM711.4 902.8h2.7v2.1h-2.7zM349 906.3h5.1v2.4h-5.1zM1201 906.3h7.5v2.4h-7.5zM601 908.4h2.7v2.4h-2.7zM1201 908.4h7.5v2.4h-7.5zM603.4 919h2.7v2.5h-2.7z"/><path fill="#209f88" d="M790.6 878.3h2.7v2.4h-2.7zM725.8 882.6h2.7v2.4h-2.7zM723.4 884.7h2.7v2.4h-2.7zM793 884.7h2.7v2.4h-2.7zM723.4 886.9h2.7v2.4h-2.7zM718.6 891h2.7v2.3h-2.7zM795.4 891h2.7v2.3h-2.7zM581.8 893h12.3v2.3h-12.3zM713.8 893h2.7v2.3h-2.7zM572.2 895h14.7v2.3h-14.7zM591.4 895h5.1v2.3h-5.1zM562.6 897h14.7v2.3h-14.7zM596.2 897h5.1v2.3h-5.1zM497.8 901h2.7v2.1h-2.7zM812.2 902.8h2.7v2.1h-2.7zM464.2 904.5h7.5v2.1h-7.5zM821.8 904.5h2.7v2.1h-2.7zM838.6 906.3h65.1v2.4h-65.1zM1208.2 906.3h7.5v2.4h-7.5zM1208.2 908.4h7.5v2.4h-7.5zM709 910.5h2.7v2.2h-2.7zM706.6 919h2.7v2.5h-2.7z"/><path fill="#20a387" d="M725.8 878.3h2.7v2.4h-2.7zM725.8 880.5h2.7v2.4h-2.7zM793 880.5h2.7v2.4h-2.7zM723.4 882.6h2.7v2.4h-2.7zM793 882.6h2.7v2.4h-2.7zM721 886.9h2.7v2.4h-2.7zM795.4 886.9h2.7v2.4h-2.7zM586.6 889h5.1v2.3h-5.1zM721 889h2.7v2.3h-2.7zM795.4 889h2.7v2.3h-2.7zM577 891h17.1v2.3h-17.1zM716.2 891h2.7v2.3h-2.7zM567.4 893h14.7v2.3h-14.7zM593.8 893h5.1v2.3h-5.1zM557.8 895h14.7v2.3h-14.7zM596.2 895h5.1v2.3h-5.1zM797.8 895h2.7v2.3h-2.7zM548.2 897h14.7v2.3h-14.7zM509.8 899h2.7v2.3h-2.7zM495.4 901h2.7v2.1h-2.7zM711.4 901h2.7v2.1h-2.7zM483.4 902.8h2.7v2.1h-2.7zM457 904.5h7.5v2.1h-7.5zM601 906.3h2.7v2.4h-2.7zM903.4 906.3h57.9v2.4h-57.9zM997 906.3h2.7v2.4h-2.7zM1215.5 906.3h5.1v2.4h-5.1zM1215.5 908.4h5.1v2.4h-5.1zM603.4 916.7h2.7v2.6h-2.7z"/><path fill="#23a685" d="M793 878.3h2.7v2.4h-2.7zM723.4 880.5h2.7v2.4h-2.7zM721 884.7h2.7v2.4h-2.7zM795.4 884.7h2.7v2.4h-2.7zM584.2 886.9h7.5v2.4h-7.5zM572.2 889h14.7v2.3h-14.7zM591.4 889h5.1v2.3h-5.1zM718.6 889h2.7v2.3h-2.7zM562.6 891h14.7v2.3h-14.7zM593.8 891h5.1v2.3h-5.1zM713.8 891h2.7v2.3h-2.7zM797.8 891h2.7v2.3h-2.7zM553 893h14.7v2.3h-14.7zM797.8 893h2.7v2.3h-2.7zM545.8 895h12.3v2.3h-12.3zM543.4 897h5.1v2.3h-5.1zM805 899h2.7v2.3h-2.7zM481 902.8h2.7v2.1h-2.7zM399.4 904.5h57.9v2.1h-57.9zM601 904.5h2.7v2.1h-2.7zM1220.3 906.3h7.5v2.4h-7.5zM339.4 908.4h2.7v2.4h-2.7zM709 908.4h2.7v2.4h-2.7zM1220.3 908.4h7.5v2.4h-7.5zM706.6 916.7h2.7v2.6h-2.7zM605.8 925.7h2.7v2.6h-2.7zM704.2 925.7h2.7v2.6h-2.7zM608.2 928h2.7v2.8h-2.7zM701.8 928h2.7v2.8h-2.7z"/><path fill="#25aa82" d="M723.4 876.2h2.7v2.4h-2.7zM793 876.2h2.7v2.4h-2.7zM723.4 878.3h2.7v2.4h-2.7zM721 880.5h2.7v2.4h-2.7zM721 882.6h2.7v2.4h-2.7zM795.4 882.6h2.7v2.4h-2.7zM579.4 884.7h14.7v2.4h-14.7zM569.8 886.9h14.7v2.4h-14.7zM591.4 886.9h5.1v2.4h-5.1zM718.6 886.9h2.7v2.4h-2.7zM560.2 889h12.3v2.3h-12.3zM596.2 889h2.7v2.3h-2.7zM797.8 889h2.7v2.3h-2.7zM548.2 891h14.7v2.3h-14.7zM543.4 893h9.9v2.3h-9.9zM598.6 893h2.7v2.3h-2.7zM543.4 895h2.7v2.3h-2.7zM800.2 895h2.7v2.3h-2.7zM529 897h14.7v2.3h-14.7zM507.4 899h2.7v2.3h-2.7zM711.4 899h2.7v2.3h-2.7zM493 901h2.7v2.1h-2.7zM814.6 902.8h2.7v2.1h-2.7zM394.6 904.5h5.1v2.1h-5.1zM824.2 904.5h2.7v2.1h-2.7zM346.6 906.3h2.7v2.4h-2.7zM961 906.3h2.7v2.4h-2.7zM994.6 906.3h2.7v2.4h-2.7zM603.4 914.4h2.7v2.6h-2.7z"/><path fill="#28ad80" d="M721 878.3h2.7v2.4h-2.7zM795.4 878.3h2.7v2.4h-2.7zM586.6 880.5h5.1v2.4h-5.1zM795.4 880.5h2.7v2.4h-2.7zM577 882.6h17.1v2.4h-17.1zM718.6 882.6h2.7v2.4h-2.7zM567.4 884.7h12.3v2.4h-12.3zM593.8 884.7h5.1v2.4h-5.1zM718.6 884.7h2.7v2.4h-2.7zM797.8 884.7h2.7v2.4h-2.7zM555.4 886.9h14.7v2.4h-14.7zM596.2 886.9h2.7v2.4h-2.7zM716.2 886.9h2.7v2.4h-2.7zM797.8 886.9h2.7v2.4h-2.7zM545.8 889h14.7v2.3h-14.7zM716.2 889h2.7v2.3h-2.7zM543.4 891h5.1v2.3h-5.1zM800.2 893h2.7v2.3h-2.7zM541 895h2.7v2.3h-2.7zM521.8 897h7.5v2.3h-7.5zM505 899h2.7v2.3h-2.7zM490.6 901h2.7v2.1h-2.7zM478.6 902.8h2.7v2.1h-2.7zM601 902.8h2.7v2.1h-2.7zM387.4 904.5h7.5v2.1h-7.5zM104.2 906.3h199.5v2.4h-199.5zM709 906.3h2.7v2.4h-2.7zM963.4 906.3h5.1v2.4h-5.1zM989.8 906.3h5.1v2.4h-5.1zM104.2 908.4h199.5v2.4h-199.5zM605.8 923.4h2.7v2.6h-2.7zM704.2 923.4h2.7v2.6h-2.7z"/><path fill="#2cb17d" d="M721 876.2h2.7v2.4h-2.7zM795.4 876.2h2.7v2.4h-2.7zM584.2 878.3h7.5v2.4h-7.5zM572.2 880.5h14.7v2.4h-14.7zM591.4 880.5h5.1v2.4h-5.1zM718.6 880.5h2.7v2.4h-2.7zM567.4 882.6h9.9v2.4h-9.9zM593.8 882.6h5.1v2.4h-5.1zM797.8 882.6h2.7v2.4h-2.7zM716.2 884.7h2.7v2.4h-2.7zM778.6 884.7h2.7v2.4h-2.7zM543.4 886.9h12.3v2.4h-12.3zM543.4 889h2.7v2.3h-2.7zM713.8 889h2.7v2.3h-2.7zM541 891h2.7v2.3h-2.7zM598.6 891h2.7v2.3h-2.7zM800.2 891h2.7v2.3h-2.7zM541 893h2.7v2.3h-2.7zM538.6 895h2.7v2.3h-2.7zM514.6 897h7.5v2.3h-7.5zM711.4 897h2.7v2.3h-2.7zM802.6 897h2.7v2.3h-2.7zM502.6 899h2.7v2.3h-2.7zM809.8 901h2.7v2.1h-2.7zM476.2 902.8h2.7v2.1h-2.7zM817 902.8h2.7v2.1h-2.7zM377.8 904.5h9.9v2.1h-9.9zM826.6 904.5h2.7v2.1h-2.7zM303.4 906.3h5.1v2.4h-5.1zM968.2 906.3h5.1v2.4h-5.1zM985 906.3h5.1v2.4h-5.1zM303.4 908.4h5.1v2.4h-5.1zM337 908.4h2.7v2.4h-2.7zM603.4 912.5h2.7v2.2h-2.7zM706.6 914.4h2.7v2.6h-2.7z"/><path fill="#32b57a" d="M579.4 876.2h14.7v2.4h-14.7zM569.8 878.3h14.7v2.4h-14.7zM591.4 878.3h5.1v2.4h-5.1zM718.6 878.3h2.7v2.4h-2.7zM567.4 880.5h5.1v2.4h-5.1zM596.2 880.5h2.7v2.4h-2.7zM797.8 880.5h2.7v2.4h-2.7zM548.2 882.6h2.7v2.4h-2.7zM716.2 882.6h2.7v2.4h-2.7zM783.4 882.6h2.7v2.4h-2.7zM543.4 884.7h7.5v2.4h-7.5zM800.2 886.9h2.7v2.4h-2.7zM541 889h2.7v2.3h-2.7zM800.2 889h2.7v2.3h-2.7zM538.6 893h2.7v2.3h-2.7zM802.6 895h2.7v2.3h-2.7zM512.2 897h2.7v2.3h-2.7zM500.2 899h2.7v2.3h-2.7zM488.2 901h2.7v2.1h-2.7zM601 901h2.7v2.1h-2.7zM473.8 902.8h2.7v2.1h-2.7zM368.2 904.5h9.9v2.1h-9.9zM709 904.5h2.7v2.1h-2.7zM829 904.5h2.7v2.1h-2.7zM308.2 906.3h2.7v2.4h-2.7zM344.2 906.3h2.7v2.4h-2.7zM973 906.3h12.3v2.4h-12.3zM308.2 908.4h2.7v2.4h-2.7zM334.6 908.4h2.7v2.4h-2.7zM603.4 910.5h2.7v2.2h-2.7zM605.8 921.2h2.7v2.5h-2.7z"/><path fill="#38b877" d="M567.4 876.2h12.3v2.4h-12.3zM593.8 876.2h2.7v2.4h-2.7zM718.6 876.2h2.7v2.4h-2.7zM797.8 876.2h2.7v2.4h-2.7zM567.4 878.3h2.7v2.4h-2.7zM596.2 878.3h2.7v2.4h-2.7zM716.2 878.3h2.7v2.4h-2.7zM797.8 878.3h2.7v2.4h-2.7zM545.8 880.5h5.1v2.4h-5.1zM716.2 880.5h2.7v2.4h-2.7zM543.4 882.6h5.1v2.4h-5.1zM800.2 884.7h2.7v2.4h-2.7zM541 886.9h2.7v2.4h-2.7zM713.8 886.9h2.7v2.4h-2.7zM598.6 889h2.7v2.3h-2.7zM538.6 891h2.7v2.3h-2.7zM802.6 893h2.7v2.3h-2.7zM536.2 895h2.7v2.3h-2.7zM711.4 895h2.7v2.3h-2.7zM509.8 897h2.7v2.3h-2.7zM497.8 899h2.7v2.3h-2.7zM601 899h2.7v2.3h-2.7zM807.4 899h2.7v2.3h-2.7zM485.8 901h2.7v2.1h-2.7zM812.2 901h2.7v2.1h-2.7zM471.4 902.8h2.7v2.1h-2.7zM819.4 902.8h2.7v2.1h-2.7zM358.6 904.5h9.9v2.1h-9.9zM831.4 904.5h2.7v2.1h-2.7zM997 904.5h2.7v2.1h-2.7zM310.6 906.3h5.1v2.4h-5.1zM310.6 908.4h5.1v2.4h-5.1zM706.6 912.5h2.7v2.2h-2.7zM704.2 921.2h2.7v2.5h-2.7z"/><path fill="#3ebc74" d="M543.4 878.3h7.5v2.4h-7.5zM543.4 880.5h2.7v2.4h-2.7zM541 882.6h2.7v2.4h-2.7zM800.2 882.6h2.7v2.4h-2.7zM541 884.7h2.7v2.4h-2.7zM781 884.7h2.7v2.4h-2.7zM538.6 886.9h2.7v2.4h-2.7zM538.6 889h2.7v2.3h-2.7zM802.6 889h2.7v2.3h-2.7zM536.2 891h2.7v2.3h-2.7zM802.6 891h2.7v2.3h-2.7zM536.2 893h2.7v2.3h-2.7zM533.8 895h2.7v2.3h-2.7zM507.4 897h2.7v2.3h-2.7zM805 897h2.7v2.3h-2.7zM495.4 899h2.7v2.3h-2.7zM483.4 901h2.7v2.1h-2.7zM469 902.8h2.7v2.1h-2.7zM709 902.8h2.7v2.1h-2.7zM821.8 902.8h2.7v2.1h-2.7zM349 904.5h9.9v2.1h-9.9zM833.8 904.5h2.7v2.1h-2.7zM994.6 904.5h2.7v2.1h-2.7zM315.4 906.3h7.5v2.4h-7.5zM341.8 906.3h2.7v2.4h-2.7zM315.4 908.4h7.5v2.4h-7.5zM603.4 908.4h2.7v2.4h-2.7zM605.8 919h2.7v2.5h-2.7zM610.6 928h2.7v2.8h-2.7zM699.4 928h2.7v2.8h-2.7z"/><path fill="#45bf70" d="M543.4 876.2h7.5v2.4h-7.5zM596.2 876.2h2.7v2.4h-2.7zM716.2 876.2h2.7v2.4h-2.7zM800.2 878.3h2.7v2.4h-2.7zM541 880.5h2.7v2.4h-2.7zM800.2 880.5h2.7v2.4h-2.7zM538.6 884.7h2.7v2.4h-2.7zM713.8 884.7h2.7v2.4h-2.7zM598.6 886.9h2.7v2.4h-2.7zM802.6 886.9h2.7v2.4h-2.7zM536.2 889h2.7v2.3h-2.7zM533.8 893h2.7v2.3h-2.7zM711.4 893h2.7v2.3h-2.7zM524.2 895h9.9v2.3h-9.9zM805 895h2.7v2.3h-2.7zM601 897h2.7v2.3h-2.7zM493 899h2.7v2.3h-2.7zM481 901h2.7v2.1h-2.7zM814.6 901h2.7v2.1h-2.7zM454.6 902.8h14.7v2.1h-14.7zM836.2 904.5h2.7v2.1h-2.7zM992.2 904.5h2.7v2.1h-2.7zM322.6 906.3h5.1v2.4h-5.1zM322.6 908.4h5.1v2.4h-5.1zM706.6 910.5h2.7v2.2h-2.7zM704.2 919h2.7v2.5h-2.7z"/><path fill="#4cc26c" d="M800.2 876.2h2.7v2.4h-2.7zM541 878.3h2.7v2.4h-2.7zM538.6 882.6h2.7v2.4h-2.7zM598.6 884.7h2.7v2.4h-2.7zM802.6 884.7h2.7v2.4h-2.7zM536.2 886.9h2.7v2.4h-2.7zM533.8 889h2.7v2.3h-2.7zM533.8 891h2.7v2.3h-2.7zM805 891h2.7v2.3h-2.7zM531.4 893h2.7v2.3h-2.7zM805 893h2.7v2.3h-2.7zM514.6 895h9.9v2.3h-9.9zM505 897h2.7v2.3h-2.7zM490.6 899h2.7v2.3h-2.7zM809.8 899h2.7v2.3h-2.7zM478.6 901h2.7v2.1h-2.7zM709 901h2.7v2.1h-2.7zM999.4 901h161.1v2.1h-161.1zM394.6 902.8h60.3v2.1h-60.3zM824.2 902.8h2.7v2.1h-2.7zM999.4 902.8h161.1v2.1h-161.1zM346.6 904.5h2.7v2.1h-2.7zM838.6 904.5h24.3v2.1h-24.3zM989.8 904.5h2.7v2.1h-2.7zM999.4 904.5h161.1v2.1h-161.1zM327.4 906.3h7.5v2.4h-7.5zM339.4 906.3h2.7v2.4h-2.7zM603.4 906.3h2.7v2.4h-2.7zM327.4 908.4h7.5v2.4h-7.5zM605.8 916.7h2.7v2.6h-2.7zM613 928h86.7v2.8h-86.7z"/><path fill="#54c568" d="M541 876.2h2.7v2.4h-2.7zM538.6 878.3h2.7v2.4h-2.7zM538.6 880.5h2.7v2.4h-2.7zM802.6 880.5h2.7v2.4h-2.7zM536.2 882.6h2.7v2.4h-2.7zM713.8 882.6h2.7v2.4h-2.7zM802.6 882.6h2.7v2.4h-2.7zM536.2 884.7h2.7v2.4h-2.7zM533.8 886.9h2.7v2.4h-2.7zM805 889h2.7v2.3h-2.7zM531.4 891h2.7v2.3h-2.7zM711.4 891h2.7v2.3h-2.7zM512.2 895h2.7v2.3h-2.7zM601 895h2.7v2.3h-2.7zM502.6 897h2.7v2.3h-2.7zM807.4 897h2.7v2.3h-2.7zM817 901h2.7v2.1h-2.7zM1160.2 901h38.7v2.1h-38.7zM385 902.8h9.9v2.1h-9.9zM997 902.8h2.7v2.1h-2.7zM1160.2 902.8h38.7v2.1h-38.7zM603.4 904.5h2.7v2.1h-2.7zM862.6 904.5h98.7v2.1h-98.7zM985 904.5h5.1v2.1h-5.1zM1160.2 904.5h38.7v2.1h-38.7zM706.6 908.4h2.7v2.4h-2.7zM704.2 916.7h2.7v2.6h-2.7zM608.2 925.7h2.7v2.6h-2.7zM701.8 925.7h2.7v2.6h-2.7z"/><path fill="#5dc962" d="M538.6 876.2h2.7v2.4h-2.7zM802.6 878.3h2.7v2.4h-2.7zM536.2 880.5h2.7v2.4h-2.7zM598.6 882.6h2.7v2.4h-2.7zM533.8 884.7h2.7v2.4h-2.7zM805 886.9h2.7v2.4h-2.7zM531.4 889h2.7v2.3h-2.7zM529 893h2.7v2.3h-2.7zM601 893h2.7v2.3h-2.7zM807.4 893h2.7v2.3h-2.7zM807.4 895h2.7v2.3h-2.7zM500.2 897h2.7v2.3h-2.7zM488.2 899h2.7v2.3h-2.7zM709 899h2.7v2.3h-2.7zM476.2 901h2.7v2.1h-2.7zM1198.6 901h12.3v2.1h-12.3zM375.4 902.8h9.9v2.1h-9.9zM826.6 902.8h2.7v2.1h-2.7zM994.6 902.8h2.7v2.1h-2.7zM1198.6 902.8h12.3v2.1h-12.3zM344.2 904.5h2.7v2.1h-2.7zM961 904.5h5.1v2.1h-5.1zM980.2 904.5h5.1v2.1h-5.1zM1198.6 904.5h12.3v2.1h-12.3zM337 906.3h2.7v2.4h-2.7zM605.8 914.4h2.7v2.6h-2.7z"/><path fill="#65cb5d" d="M802.6 876.2h2.7v2.4h-2.7zM536.2 878.3h2.7v2.4h-2.7zM533.8 880.5h2.7v2.4h-2.7zM713.8 880.5h2.7v2.4h-2.7zM533.8 882.6h2.7v2.4h-2.7zM805 882.6h2.7v2.4h-2.7zM531.4 884.7h2.7v2.4h-2.7zM805 884.7h2.7v2.4h-2.7zM531.4 886.9h2.7v2.4h-2.7zM529 889h2.7v2.3h-2.7zM711.4 889h2.7v2.3h-2.7zM529 891h2.7v2.3h-2.7zM807.4 891h2.7v2.3h-2.7zM526.6 893h2.7v2.3h-2.7zM509.8 895h2.7v2.3h-2.7zM497.8 897h2.7v2.3h-2.7zM809.8 897h2.7v2.3h-2.7zM485.8 899h2.7v2.3h-2.7zM812.2 899h2.7v2.3h-2.7zM473.8 901h2.7v2.1h-2.7zM819.4 901h2.7v2.1h-2.7zM1210.7 901h12.3v2.1h-12.3zM363.4 902.8h12.3v2.1h-12.3zM603.4 902.8h2.7v2.1h-2.7zM829 902.8h2.7v2.1h-2.7zM1210.7 902.8h12.3v2.1h-12.3zM965.8 904.5h14.7v2.1h-14.7zM1210.7 904.5h12.3v2.1h-12.3zM334.6 906.3h2.7v2.4h-2.7zM706.6 906.3h2.7v2.4h-2.7zM605.8 912.5h2.7v2.2h-2.7zM608.2 923.4h2.7v2.6h-2.7zM701.8 923.4h2.7v2.6h-2.7z"/><path fill="#6ece58" d="M536.2 876.2h2.7v2.4h-2.7zM533.8 878.3h2.7v2.4h-2.7zM598.6 880.5h2.7v2.4h-2.7zM805 880.5h2.7v2.4h-2.7zM531.4 882.6h2.7v2.4h-2.7zM529 886.9h2.7v2.4h-2.7zM526.6 889h2.7v2.3h-2.7zM807.4 889h2.7v2.3h-2.7zM526.6 891h2.7v2.3h-2.7zM601 891h2.7v2.3h-2.7zM524.2 893h2.7v2.3h-2.7zM809.8 893h2.7v2.3h-2.7zM507.4 895h2.7v2.3h-2.7zM809.8 895h2.7v2.3h-2.7zM495.4 897h2.7v2.3h-2.7zM709 897h2.7v2.3h-2.7zM812.2 897h2.7v2.3h-2.7zM483.4 899h2.7v2.3h-2.7zM814.6 899h2.7v2.3h-2.7zM471.4 901h2.7v2.1h-2.7zM603.4 901h2.7v2.1h-2.7zM1222.7 901h5.1v2.1h-5.1zM353.8 902.8h9.9v2.1h-9.9zM992.2 902.8h2.7v2.1h-2.7zM1222.7 902.8h5.1v2.1h-5.1zM341.8 904.5h2.7v2.1h-2.7zM1222.7 904.5h5.1v2.1h-5.1zM704.2 914.4h2.7v2.6h-2.7z"/><path fill="#78d152" d="M533.8 876.2h2.7v2.4h-2.7zM713.8 878.3h2.7v2.4h-2.7zM805 878.3h2.7v2.4h-2.7zM531.4 880.5h2.7v2.4h-2.7zM778.6 882.6h2.7v2.4h-2.7zM529 884.7h2.7v2.4h-2.7zM807.4 884.7h2.7v2.4h-2.7zM526.6 886.9h2.7v2.4h-2.7zM711.4 886.9h2.7v2.4h-2.7zM807.4 886.9h2.7v2.4h-2.7zM524.2 889h2.7v2.3h-2.7zM601 889h2.7v2.3h-2.7zM521.8 891h5.1v2.3h-5.1zM809.8 891h2.7v2.3h-2.7zM514.6 893h9.9v2.3h-9.9zM812.2 893h2.7v2.3h-2.7zM502.6 895h5.1v2.3h-5.1zM812.2 895h5.1v2.3h-5.1zM493 897h2.7v2.3h-2.7zM814.6 897h2.7v2.3h-2.7zM481 899h2.7v2.3h-2.7zM817 899h2.7v2.3h-2.7zM104.2 901h199.5v2.1h-199.5zM457 901h14.7v2.1h-14.7zM821.8 901h2.7v2.1h-2.7zM997 901h2.7v2.1h-2.7zM104.2 902.8h199.5v2.1h-199.5zM349 902.8h5.1v2.1h-5.1zM831.4 902.8h5.1v2.1h-5.1zM987.4 902.8h5.1v2.1h-5.1zM104.2 904.5h199.5v2.1h-199.5zM706.6 904.5h2.7v2.1h-2.7zM605.8 910.5h2.7v2.2h-2.7zM608.2 921.2h2.7v2.5h-2.7zM701.8 921.2h2.7v2.5h-2.7z"/><path fill="#82d34c" d="M531.4 876.2h2.7v2.4h-2.7zM805 876.2h2.7v2.4h-2.7zM531.4 878.3h2.7v2.4h-2.7zM598.6 878.3h2.7v2.4h-2.7zM529 880.5h2.7v2.4h-2.7zM529 882.6h2.7v2.4h-2.7zM807.4 882.6h2.7v2.4h-2.7zM526.6 884.7h2.7v2.4h-2.7zM524.2 886.9h2.7v2.4h-2.7zM521.8 889h2.7v2.3h-2.7zM809.8 889h2.7v2.3h-2.7zM519.4 891h2.7v2.3h-2.7zM812.2 891h2.7v2.3h-2.7zM509.8 893h5.1v2.3h-5.1zM814.6 893h2.7v2.3h-2.7zM500.2 895h2.7v2.3h-2.7zM709 895h2.7v2.3h-2.7zM817 895h2.7v2.3h-2.7zM488.2 897h5.1v2.3h-5.1zM817 897h2.7v2.3h-2.7zM478.6 899h2.7v2.3h-2.7zM603.4 899h2.7v2.3h-2.7zM819.4 899h2.7v2.3h-2.7zM303.4 901h5.1v2.1h-5.1zM387.4 901h69.9v2.1h-69.9zM824.2 901h2.7v2.1h-2.7zM994.6 901h2.7v2.1h-2.7zM303.4 902.8h5.1v2.1h-5.1zM346.6 902.8h2.7v2.1h-2.7zM836.2 902.8h2.7v2.1h-2.7zM982.6 902.8h5.1v2.1h-5.1zM303.4 904.5h5.1v2.1h-5.1zM339.4 904.5h2.7v2.1h-2.7zM704.2 912.5h2.7v2.2h-2.7zM608.2 919h2.7v2.5h-2.7z"/><path fill="#8cd646" d="M598.6 876.2h2.7v2.4h-2.7zM713.8 876.2h2.7v2.4h-2.7zM1001.8 876.2h7.5v2.4h-7.5zM1119.4 876.2h7.5v2.4h-7.5zM529 878.3h2.7v2.4h-2.7zM1001.8 878.3h7.5v2.4h-7.5zM1119.4 878.3h7.5v2.4h-7.5zM526.6 880.5h2.7v2.4h-2.7zM807.4 880.5h2.7v2.4h-2.7zM524.2 882.6h5.1v2.4h-5.1zM524.2 884.7h2.7v2.4h-2.7zM711.4 884.7h2.7v2.4h-2.7zM809.8 884.7h2.7v2.4h-2.7zM521.8 886.9h2.7v2.4h-2.7zM601 886.9h2.7v2.4h-2.7zM809.8 886.9h5.1v2.4h-5.1zM519.4 889h2.7v2.3h-2.7zM812.2 889h2.7v2.3h-2.7zM517 891h2.7v2.3h-2.7zM814.6 891h2.7v2.3h-2.7zM507.4 893h2.7v2.3h-2.7zM817 893h2.7v2.3h-2.7zM497.8 895h2.7v2.3h-2.7zM819.4 895h2.7v2.3h-2.7zM485.8 897h2.7v2.3h-2.7zM603.4 897h2.7v2.3h-2.7zM819.4 897h5.1v2.3h-5.1zM473.8 899h5.1v2.3h-5.1zM821.8 899h5.1v2.3h-5.1zM308.2 901h5.1v2.1h-5.1zM368.2 901h19.5v2.1h-19.5zM826.6 901h2.7v2.1h-2.7zM992.2 901h2.7v2.1h-2.7zM308.2 902.8h5.1v2.1h-5.1zM344.2 902.8h2.7v2.1h-2.7zM706.6 902.8h2.7v2.1h-2.7zM838.6 902.8h125.1v2.1h-125.1zM973 902.8h9.9v2.1h-9.9zM308.2 904.5h5.1v2.1h-5.1zM334.6 904.5h5.1v2.1h-5.1zM605.8 908.4h2.7v2.4h-2.7zM701.8 919h2.7v2.5h-2.7z"/><path fill="#96d83f" d="M351.4 876.2h9.9v2.4h-9.9zM529 876.2h2.7v2.4h-2.7zM807.4 876.2h2.7v2.4h-2.7zM351.4 878.3h9.9v2.4h-9.9zM526.6 878.3h2.7v2.4h-2.7zM807.4 878.3h2.7v2.4h-2.7zM524.2 880.5h2.7v2.4h-2.7zM521.8 882.6h2.7v2.4h-2.7zM809.8 882.6h2.7v2.4h-2.7zM521.8 884.7h2.7v2.4h-2.7zM812.2 884.7h2.7v2.4h-2.7zM519.4 886.9h2.7v2.4h-2.7zM814.6 886.9h2.7v2.4h-2.7zM517 889h2.7v2.3h-2.7zM814.6 889h5.1v2.3h-5.1zM514.6 891h2.7v2.3h-2.7zM817 891h2.7v2.3h-2.7zM505 893h2.7v2.3h-2.7zM709 893h2.7v2.3h-2.7zM819.4 893h2.7v2.3h-2.7zM493 895h5.1v2.3h-5.1zM821.8 895h2.7v2.3h-2.7zM483.4 897h2.7v2.3h-2.7zM824.2 897h5.1v2.3h-5.1zM471.4 899h2.7v2.3h-2.7zM826.6 899h5.1v2.3h-5.1zM997 899h2.7v2.3h-2.7zM313 901h7.5v2.1h-7.5zM349 901h19.5v2.1h-19.5zM829 901h5.1v2.1h-5.1zM987.4 901h5.1v2.1h-5.1zM313 902.8h7.5v2.1h-7.5zM341.8 902.8h2.7v2.1h-2.7zM963.4 902.8h9.9v2.1h-9.9zM313 904.5h7.5v2.1h-7.5zM605.8 906.3h2.7v2.4h-2.7zM704.2 910.5h2.7v2.2h-2.7zM608.2 916.7h2.7v2.6h-2.7z"/><path fill="#a0da38" d="M291.5 876.2h7.5v2.4h-7.5zM526.6 876.2h2.7v2.4h-2.7zM865 876.2h9.9v2.4h-9.9zM291.5 878.3h7.5v2.4h-7.5zM524.2 878.3h2.7v2.4h-2.7zM865 878.3h9.9v2.4h-9.9zM521.8 880.5h2.7v2.4h-2.7zM809.8 880.5h2.7v2.4h-2.7zM519.4 882.6h2.7v2.4h-2.7zM812.2 882.6h2.7v2.4h-2.7zM519.4 884.7h2.7v2.4h-2.7zM601 884.7h2.7v2.4h-2.7zM814.6 884.7h2.7v2.4h-2.7zM517 886.9h2.7v2.4h-2.7zM817 886.9h2.7v2.4h-2.7zM514.6 889h2.7v2.3h-2.7zM819.4 889h2.7v2.3h-2.7zM509.8 891h5.1v2.3h-5.1zM819.4 891h5.1v2.3h-5.1zM500.2 893h5.1v2.3h-5.1zM821.8 893h5.1v2.3h-5.1zM490.6 895h2.7v2.3h-2.7zM603.4 895h2.7v2.3h-2.7zM824.2 895h5.1v2.3h-5.1zM481 897h2.7v2.3h-2.7zM829 897h2.7v2.3h-2.7zM461.8 899h9.9v2.3h-9.9zM831.4 899h2.7v2.3h-2.7zM994.6 899h2.7v2.3h-2.7zM320.2 901h5.1v2.1h-5.1zM346.6 901h2.7v2.1h-2.7zM706.6 901h2.7v2.1h-2.7zM982.6 901h5.1v2.1h-5.1zM320.2 902.8h5.1v2.1h-5.1zM339.4 902.8h2.7v2.1h-2.7zM320.2 904.5h5.1v2.1h-5.1zM610.6 925.7h2.7v2.6h-2.7zM699.4 925.7h2.7v2.6h-2.7z"/><path fill="#abdc32" d="M524.2 876.2h2.7v2.4h-2.7zM809.8 876.2h2.7v2.4h-2.7zM1009 876.2h9.9v2.4h-9.9zM521.8 878.3h2.7v2.4h-2.7zM809.8 878.3h5.1v2.4h-5.1zM1009 878.3h9.9v2.4h-9.9zM519.4 880.5h2.7v2.4h-2.7zM812.2 880.5h2.7v2.4h-2.7zM517 882.6h2.7v2.4h-2.7zM711.4 882.6h2.7v2.4h-2.7zM781 882.6h2.7v2.4h-2.7zM814.6 882.6h2.7v2.4h-2.7zM514.6 884.7h5.1v2.4h-5.1zM817 884.7h2.7v2.4h-2.7zM514.6 886.9h2.7v2.4h-2.7zM819.4 886.9h2.7v2.4h-2.7zM512.2 889h2.7v2.3h-2.7zM821.8 889h2.7v2.3h-2.7zM507.4 891h2.7v2.3h-2.7zM709 891h2.7v2.3h-2.7zM824.2 891h2.7v2.3h-2.7zM497.8 893h2.7v2.3h-2.7zM826.6 893h5.1v2.3h-5.1zM488.2 895h2.7v2.3h-2.7zM829 895h5.1v2.3h-5.1zM478.6 897h2.7v2.3h-2.7zM831.4 897h2.7v2.3h-2.7zM997 897h2.7v2.3h-2.7zM389.8 899h72.3v2.3h-72.3zM706.6 899h2.7v2.3h-2.7zM992.2 899h2.7v2.3h-2.7zM325 901h7.5v2.1h-7.5zM344.2 901h2.7v2.1h-2.7zM833.8 901h2.7v2.1h-2.7zM977.8 901h5.1v2.1h-5.1zM325 902.8h7.5v2.1h-7.5zM337 902.8h2.7v2.1h-2.7zM325 904.5h7.5v2.1h-7.5zM605.8 904.5h2.7v2.1h-2.7zM704.2 908.4h2.7v2.4h-2.7zM608.2 914.4h2.7v2.6h-2.7zM701.8 916.7h2.7v2.6h-2.7z"/><path fill="#b5de2b" d="M521.8 876.2h2.7v2.4h-2.7zM812.2 876.2h2.7v2.4h-2.7zM519.4 878.3h2.7v2.4h-2.7zM814.6 878.3h2.7v2.4h-2.7zM517 880.5h2.7v2.4h-2.7zM814.6 880.5h5.1v2.4h-5.1zM514.6 882.6h2.7v2.4h-2.7zM601 882.6h2.7v2.4h-2.7zM817 882.6h2.7v2.4h-2.7zM512.2 884.7h2.7v2.4h-2.7zM819.4 884.7h2.7v2.4h-2.7zM509.8 886.9h5.1v2.4h-5.1zM821.8 886.9h5.1v2.4h-5.1zM505 889h7.5v2.3h-7.5zM824.2 889h5.1v2.3h-5.1zM500.2 891h7.5v2.3h-7.5zM826.6 891h5.1v2.3h-5.1zM495.4 893h2.7v2.3h-2.7zM603.4 893h2.7v2.3h-2.7zM831.4 893h2.7v2.3h-2.7zM485.8 895h2.7v2.3h-2.7zM476.2 897h2.7v2.3h-2.7zM994.6 897h2.7v2.3h-2.7zM370.6 899h19.5v2.3h-19.5zM987.4 899h5.1v2.3h-5.1zM332.2 901h2.7v2.1h-2.7zM341.8 901h2.7v2.1h-2.7zM836.2 901h36.3v2.1h-36.3zM970.6 901h7.5v2.1h-7.5zM332.2 902.8h5.1v2.1h-5.1zM605.8 902.8h2.7v2.1h-2.7zM332.2 904.5h2.7v2.1h-2.7zM610.6 923.4h2.7v2.6h-2.7z"/><path fill="#c0df25" d="M519.4 876.2h2.7v2.4h-2.7zM814.6 876.2h2.7v2.4h-2.7zM941.8 876.2h5.1v2.4h-5.1zM1208.2 876.2h9.9v2.4h-9.9zM517 878.3h2.7v2.4h-2.7zM817 878.3h2.7v2.4h-2.7zM941.8 878.3h5.1v2.4h-5.1zM1208.2 878.3h9.9v2.4h-9.9zM514.6 880.5h2.7v2.4h-2.7zM601 880.5h2.7v2.4h-2.7zM711.4 880.5h2.7v2.4h-2.7zM819.4 880.5h2.7v2.4h-2.7zM512.2 882.6h2.7v2.4h-2.7zM819.4 882.6h5.1v2.4h-5.1zM507.4 884.7h5.1v2.4h-5.1zM821.8 884.7h5.1v2.4h-5.1zM502.6 886.9h7.5v2.4h-7.5zM826.6 886.9h2.7v2.4h-2.7zM497.8 889h7.5v2.3h-7.5zM709 889h2.7v2.3h-2.7zM829 889h5.1v2.3h-5.1zM495.4 891h5.1v2.3h-5.1zM603.4 891h2.7v2.3h-2.7zM831.4 891h2.7v2.3h-2.7zM493 893h2.7v2.3h-2.7zM483.4 895h2.7v2.3h-2.7zM473.8 897h2.7v2.3h-2.7zM706.6 897h2.7v2.3h-2.7zM349 899h21.9v2.3h-21.9zM985 899h2.7v2.3h-2.7zM339.4 901h2.7v2.1h-2.7zM605.8 901h2.7v2.1h-2.7zM872.2 901h98.7v2.1h-98.7zM704.2 906.3h2.7v2.4h-2.7zM608.2 912.5h2.7v2.2h-2.7zM701.8 914.4h2.7v2.6h-2.7zM699.4 923.4h2.7v2.6h-2.7z"/><path fill="#cbe121" d="M514.6 876.2h5.1v2.4h-5.1zM817 876.2h2.7v2.4h-2.7zM514.6 878.3h2.7v2.4h-2.7zM601 878.3h2.7v2.4h-2.7zM711.4 878.3h2.7v2.4h-2.7zM819.4 878.3h2.7v2.4h-2.7zM512.2 880.5h2.7v2.4h-2.7zM821.8 880.5h2.7v2.4h-2.7zM507.4 882.6h5.1v2.4h-5.1zM824.2 882.6h2.7v2.4h-2.7zM502.6 884.7h5.1v2.4h-5.1zM826.6 884.7h5.1v2.4h-5.1zM497.8 886.9h5.1v2.4h-5.1zM709 886.9h2.7v2.4h-2.7zM829 886.9h5.1v2.4h-5.1zM495.4 889h2.7v2.3h-2.7zM603.4 889h2.7v2.3h-2.7zM999.4 889h209.1v2.3h-209.1zM999.4 891h209.1v2.3h-209.1zM488.2 893h5.1v2.3h-5.1zM999.4 893h209.1v2.3h-209.1zM478.6 895h5.1v2.3h-5.1zM706.6 895h2.7v2.3h-2.7zM994.6 895h213.9v2.3h-213.9zM397 897h77.1v2.3h-77.1zM989.8 897h5.1v2.3h-5.1zM999.4 897h209.1v2.3h-209.1zM344.2 899h5.1v2.3h-5.1zM605.8 899h2.7v2.3h-2.7zM833.8 899h2.7v2.3h-2.7zM977.8 899h7.5v2.3h-7.5zM999.4 899h209.1v2.3h-209.1zM334.6 901h5.1v2.1h-5.1zM704.2 904.5h2.7v2.1h-2.7zM608.2 910.5h2.7v2.2h-2.7zM701.8 912.5h2.7v2.2h-2.7zM610.6 921.2h2.7v2.5h-2.7zM699.4 921.2h2.7v2.5h-2.7z"/><path fill="#d5e21c" d="M512.2 876.2h2.7v2.4h-2.7zM601 876.2h2.7v2.4h-2.7zM711.4 876.2h2.7v2.4h-2.7zM819.4 876.2h2.7v2.4h-2.7zM509.8 878.3h5.1v2.4h-5.1zM821.8 878.3h5.1v2.4h-5.1zM505 880.5h7.5v2.4h-7.5zM824.2 880.5h5.1v2.4h-5.1zM500.2 882.6h7.5v2.4h-7.5zM826.6 882.6h5.1v2.4h-5.1zM301 884.7h201.9v2.4h-201.9zM709 884.7h2.7v2.4h-2.7zM831.4 884.7h2.7v2.4h-2.7zM301 886.9h197.1v2.4h-197.1zM603.4 886.9h2.7v2.4h-2.7zM104.2 889h391.5v2.3h-391.5zM997 889h2.7v2.3h-2.7zM1208.2 889h19.6v2.3h-19.6zM104.2 891h391.5v2.3h-391.5zM833.8 891h165.9v2.3h-165.9zM1208.2 891h19.6v2.3h-19.6zM104.2 893h384.3v2.3h-384.3zM833.8 893h165.9v2.3h-165.9zM1208.2 893h19.6v2.3h-19.6zM104.2 895h374.7v2.3h-374.7zM833.8 895h161.1v2.3h-161.1zM1208.2 895h19.6v2.3h-19.6zM104.2 897h293.1v2.3h-293.1zM605.8 897h2.7v2.3h-2.7zM833.8 897h156.3v2.3h-156.3zM1208.2 897h19.6v2.3h-19.6zM104.2 899h240.3v2.3h-240.3zM836.2 899h141.9v2.3h-141.9zM1208.2 899h19.6v2.3h-19.6zM704.2 902.8h2.7v2.1h-2.7zM608.2 908.4h2.7v2.4h-2.7zM610.6 919h2.7v2.5h-2.7zM699.4 919h2.7v2.5h-2.7zM613 925.7h86.7v2.6h-86.7z"/><path fill="#e0e31a" d="M550.6 876.2h2.7v2.4h-2.7zM565 876.2h2.7v2.4h-2.7zM821.8 876.2h2.7v2.4h-2.7zM507.4 878.3h2.7v2.4h-2.7zM550.6 878.3h2.7v2.4h-2.7zM565 878.3h2.7v2.4h-2.7zM497.8 880.5h7.5v2.4h-7.5zM550.6 880.5h2.7v2.4h-2.7zM565 880.5h2.7v2.4h-2.7zM829 880.5h5.1v2.4h-5.1zM999.4 880.5h221.1v2.4h-221.1zM490.6 882.6h9.9v2.4h-9.9zM550.6 882.6h2.7v2.4h-2.7zM565 882.6h2.7v2.4h-2.7zM831.4 882.6h2.7v2.4h-2.7zM997 882.6h223.5v2.4h-223.5zM550.6 884.7h2.7v2.4h-2.7zM565 884.7h2.7v2.4h-2.7zM603.4 884.7h2.7v2.4h-2.7zM992.2 884.7h228.3v2.4h-228.3zM989.8 886.9h230.7v2.4h-230.7zM833.8 889h163.5v2.3h-163.5zM706.6 893h2.7v2.3h-2.7zM704.2 901h2.7v2.1h-2.7zM608.2 906.3h2.7v2.4h-2.7zM701.8 910.5h2.7v2.2h-2.7zM610.6 916.7h2.7v2.6h-2.7z"/><path fill="#e9e51e" d="M104.2 876.2h187.5v2.4h-187.5zM298.6 876.2h53.1v2.4h-53.1zM361 876.2h151.5v2.4h-151.5zM553 876.2h2.7v2.4h-2.7zM562.6 876.2h2.7v2.4h-2.7zM824.2 876.2h41.1v2.4h-41.1zM874.6 876.2h67.5v2.4h-67.5zM946.6 876.2h55.5v2.4h-55.5zM1018.6 876.2h101.1v2.4h-101.1zM1126.6 876.2h81.9v2.4h-81.9zM1217.9 876.2h9.9v2.4h-9.9zM104.2 878.3h187.5v2.4h-187.5zM298.6 878.3h53.1v2.4h-53.1zM361 878.3h146.7v2.4h-146.7zM553 878.3h2.7v2.4h-2.7zM562.6 878.3h2.7v2.4h-2.7zM826.6 878.3h38.7v2.4h-38.7zM874.6 878.3h67.5v2.4h-67.5zM946.6 878.3h55.5v2.4h-55.5zM1018.6 878.3h101.1v2.4h-101.1zM1126.6 878.3h81.9v2.4h-81.9zM1217.9 878.3h9.9v2.4h-9.9zM104.2 880.5h393.9v2.4h-393.9zM553 880.5h2.7v2.4h-2.7zM562.6 880.5h2.7v2.4h-2.7zM833.8 880.5h165.9v2.4h-165.9zM1220.3 880.5h7.5v2.4h-7.5zM104.2 882.6h386.7v2.4h-386.7zM553 882.6h2.7v2.4h-2.7zM562.6 882.6h2.7v2.4h-2.7zM709 882.6h2.7v2.4h-2.7zM833.8 882.6h163.5v2.4h-163.5zM1220.3 882.6h7.5v2.4h-7.5zM104.2 884.7h197.1v2.4h-197.1zM553 884.7h2.7v2.4h-2.7zM562.6 884.7h2.7v2.4h-2.7zM833.8 884.7h158.7v2.4h-158.7zM1220.3 884.7h7.5v2.4h-7.5zM104.2 886.9h197.1v2.4h-197.1zM833.8 886.9h156.3v2.4h-156.3zM1220.3 886.9h7.5v2.4h-7.5zM706.6 891h2.7v2.3h-2.7zM605.8 895h2.7v2.3h-2.7zM704.2 899h2.7v2.3h-2.7zM608.2 904.5h2.7v2.1h-2.7zM701.8 908.4h2.7v2.4h-2.7zM610.6 914.4h2.7v2.6h-2.7zM699.4 916.7h2.7v2.6h-2.7z"/><path fill="#f3e621" d="M555.4 876.2h2.7v2.4h-2.7zM560.2 876.2h2.7v2.4h-2.7zM555.4 878.3h2.7v2.4h-2.7zM560.2 878.3h2.7v2.4h-2.7zM555.4 880.5h2.7v2.4h-2.7zM560.2 880.5h2.7v2.4h-2.7zM709 880.5h2.7v2.4h-2.7zM555.4 882.6h2.7v2.4h-2.7zM560.2 882.6h2.7v2.4h-2.7zM603.4 882.6h2.7v2.4h-2.7zM555.4 884.7h2.7v2.4h-2.7zM560.2 884.7h2.7v2.4h-2.7zM706.6 889h2.7v2.3h-2.7zM605.8 893h2.7v2.3h-2.7zM608.2 902.8h2.7v2.1h-2.7zM701.8 906.3h2.7v2.4h-2.7zM610.6 912.5h2.7v2.2h-2.7zM699.4 914.4h2.7v2.6h-2.7zM613 923.4h2.7v2.6h-2.7zM697 923.4h2.7v2.6h-2.7z"/><path fill="#fde725" d="M557.8 876.2h2.7v2.4h-2.7zM603.4 876.2h108.3v2.4h-108.3zM557.8 878.3h2.7v2.4h-2.7zM603.4 878.3h108.3v2.4h-108.3zM557.8 880.5h2.7v2.4h-2.7zM603.4 880.5h105.9v2.4h-105.9zM557.8 882.6h2.7v2.4h-2.7zM605.8 882.6h103.5v2.4h-103.5zM557.8 884.7h2.7v2.4h-2.7zM605.8 884.7h103.5v2.4h-103.5zM605.8 886.9h103.5v2.4h-103.5zM605.8 889h101.1v2.3h-101.1zM605.8 891h101.1v2.3h-101.1zM608.2 893h98.7v2.3h-98.7zM608.2 895h98.7v2.3h-98.7zM608.2 897h98.7v2.3h-98.7zM608.2 899h96.3v2.3h-96.3zM608.2 901h96.3v2.1h-96.3zM610.6 902.8h93.9v2.1h-93.9zM610.6 904.5h93.9v2.1h-93.9zM610.6 906.3h91.5v2.4h-91.5zM610.6 908.4h91.5v2.4h-91.5zM610.6 910.5h91.5v2.2h-91.5zM613 912.5h89.1v2.2h-89.1zM613 914.4h86.7v2.6h-86.7zM613 916.7h86.7v2.6h-86.7zM613 919h86.7v2.5h-86.7zM613 921.2h86.7v2.5h-86.7zM615.4 923.4h81.9v2.6h-81.9z"/></g></g>
<g fill="none" stroke="#440154" stroke-linecap="round" stroke-linejoin="round" stroke-width="2.8"><path d="M543.5 876.8L552 882.3L561.6 889.6"/><path d="M563.2 890.2L559 888.4" stroke-width="3.6"/><path d="M561.8 889.4L569 883.6L576.8 878.6" stroke-width="2.4"/><path d="M550.8 877.2L560 885.8" stroke-width="2"/><path d="M563.4 876.9L572.6 881.7" stroke-width="2.3"/></g>
</g>
<g clip-path="url(#clB)">
<g filter="url(#pfB)"><g clip-path="url(#cB1)"><use href="#PB" fill="#f00"/></g><g style="mix-blend-mode:screen" clip-path="url(#cB3)"><g clip-path="url(#cB4)"><use href="#PB" fill="#00f" clip-path="url(#cB2)"/></g></g><path fill="#0f0" style="mix-blend-mode:screen" d="M663.5 992C664 993.3 665.6 997.3 666.2 1000C666.8 1002.7 666.8 1005.5 667 1008C667.3 1010.5 667.5 1012.8 667.6 1015C667.8 1017.2 667.9 1019.3 667.9 1021.5C667.9 1023.7 667.9 1025.8 667.8 1028C667.8 1030.2 667.8 1031.3 667.7 1035C667.6 1038.7 667.2 1045 667 1050C666.8 1055 666.5 1061 666.3 1065C666.2 1069 666.2 1069 666 1074C665.8 1079 665.4 1088.3 665.2 1095C665 1101.7 664.9 1108.8 664.8 1114C664.6 1119.2 664.5 1122.7 664.4 1126C664.3 1129.3 664.3 1131.7 664.2 1134C664.1 1136.3 664 1138 663.9 1140C663.8 1142 663.7 1144 663.6 1146C663.5 1148 663.3 1151 663.3 1152L668.3 1152C668.2 1151 668.1 1148 668 1146C667.9 1144 667.8 1142 667.7 1140C667.6 1138 667.5 1136.3 667.4 1134C667.3 1131.7 667.3 1129.3 667.2 1126C667.2 1122.7 667.1 1119.2 667.2 1114C667.2 1108.8 667.3 1101.7 667.4 1095C667.5 1088.3 667.8 1079 668 1074C668.2 1069 668.2 1069 668.4 1065C668.6 1061 669 1055 669.3 1050C669.6 1045 670.2 1038.7 670.5 1035C670.8 1031.3 671 1030.2 671.3 1028C671.6 1025.8 671.9 1023.7 672.3 1021.5C672.7 1019.3 673.1 1017.2 673.6 1015C674.2 1012.8 674.8 1010.5 675.4 1008C676.1 1005.5 677 1002.7 677.8 1000C678.6 997.3 680 993.3 680.5 992Z"/><path fill="#00f" style="mix-blend-mode:screen" d="M516.3 1142C517.4 1141.6 516.2 1140.3 522.8 1139.8C529.4 1139.2 543.6 1139.1 555.8 1138.7C568 1138.3 585 1137.9 595.8 1137.6C606.6 1137.3 613.3 1137.1 620.8 1137C628.3 1136.9 635.8 1136.9 640.8 1136.9C645.8 1136.9 648.3 1137 650.8 1137C653.3 1137 654.1 1137.1 655.8 1137.2C657.5 1137.3 659.1 1137.5 660.8 1137.6C662.5 1137.7 665 1137.9 665.8 1138C666.6 1138.1 665 1138.1 665.8 1138C666.6 1137.9 669.1 1137.7 670.8 1137.6C672.5 1137.5 674.1 1137.3 675.8 1137.2C677.5 1137.1 678.3 1137 680.8 1137C683.3 1137 685.8 1136.9 690.8 1136.9C695.8 1136.9 703.3 1136.9 710.8 1137C718.3 1137.1 725 1137.3 735.8 1137.6C746.6 1137.9 763.6 1138.3 775.8 1138.7C788 1139.1 802.2 1139.2 808.8 1139.8C815.4 1140.3 814.2 1141.6 815.3 1142L815.3 1153.4L516.3 1153.4Z"/></g>
</g>
<rect x="387.8" y="937.5" width="1" height="4" fill="#fff" opacity=".9"/>
<rect x="105.5" y="212" width="299.5" height="16" fill="url(#orrd)"/>
<line x1="105.6" x2="105.6" y1="191.8" y2="220.5" stroke="#111" stroke-width="1.1"/>
<line x1="247.3" x2="247.3" y1="191.8" y2="220.5" stroke="#111" stroke-width="1.1"/>
<line x1="404.6" x2="404.6" y1="191.8" y2="220.5" stroke="#111" stroke-width="1.1"/>
<rect x="503.6" y="144.6" width="273" height="15.8" fill="url(#vir)"/>
<line x1="503.7" x2="503.7" y1="122.4" y2="153.8" stroke="#0a0a33" stroke-width="1.1"/>
<line x1="581.4" x2="581.4" y1="122.4" y2="153.8" stroke="#0a0a33" stroke-width="1.1"/>
<line x1="659.2" x2="659.2" y1="122.4" y2="153.8" stroke="#0a0a33" stroke-width="1.1"/>
<line x1="776.4" x2="776.4" y1="122.4" y2="153.8" stroke="#0a0a33" stroke-width="1.1"/>
<rect x="109.2" y="801.5" width="303.2" height="16.5" fill="url(#orrd)"/>
<line x1="109.3" x2="109.3" y1="781.7" y2="810.7" stroke="#111" stroke-width="1.1"/>
<line x1="252.9" x2="252.9" y1="781.7" y2="810.7" stroke="#111" stroke-width="1.1"/>
<line x1="412.2" x2="412.2" y1="781.7" y2="810.7" stroke="#111" stroke-width="1.1"/>
<rect x="519.4" y="726.8" width="270.6" height="15.8" fill="url(#vir)"/>
<line x1="519.5" x2="519.5" y1="706.3" y2="735" stroke="#111" stroke-width="1.1"/>
<line x1="654.6" x2="654.6" y1="706.3" y2="735" stroke="#111" stroke-width="1.1"/>
<line x1="789.8" x2="789.8" y1="706.3" y2="735" stroke="#111" stroke-width="1.1"/>
<g stroke="#151515" stroke-width="1.05" fill="none">
<line x1="100.7" x2="1210.4" y1="285.4" y2="285.4"/>
<line x1="100.7" x2="1210.4" y1="550.6" y2="550.6"/>
<line x1="100.7" x2="100.7" y1="275.4" y2="560.6"/>
<line x1="1210.4" x2="1210.4" y1="275.4" y2="560.6"/>
<path d="M193.18 276.4V294.4M193.18 541.6V559.6M285.65 276.4V294.4M285.65 541.6V559.6M378.12 276.4V294.4M378.12 541.6V559.6M470.6 276.4V294.4M470.6 541.6V559.6M563.08 276.4V294.4M563.08 541.6V559.6M655.55 276.4V294.4M655.55 541.6V559.6M748.02 276.4V294.4M748.02 541.6V559.6M840.5 276.4V294.4M840.5 541.6V559.6M932.98 276.4V294.4M932.98 541.6V559.6M1025.45 276.4V294.4M1025.45 541.6V559.6M1117.92 276.4V294.4M1117.92 541.6V559.6M91.7 310.3H109.7M1201.4 310.3H1219.4M91.7 350.33H109.7M1201.4 350.33H1219.4M91.7 390.36H109.7M1201.4 390.36H1219.4M91.7 430.39H109.7M1201.4 430.39H1219.4M91.7 470.42H109.7M1201.4 470.42H1219.4M91.7 510.45H109.7M1201.4 510.45H1219.4M91.7 550.48H109.7M1201.4 550.48H1219.4"/>
</g>
<g stroke="#151515" stroke-width="1.05" fill="none">
<line x1="104.25" x2="1227.5" y1="875.7" y2="875.7"/>
<line x1="104.25" x2="1227.5" y1="1141.4" y2="1141.4"/>
<line x1="104.25" x2="104.25" y1="865.5" y2="1151.6"/>
<line x1="1227.5" x2="1227.5" y1="865.5" y2="1151.6"/>
<path d="M197.85 866.5V884.9M197.85 1132.2V1150.6M291.46 866.5V884.9M291.46 1132.2V1150.6M385.06 866.5V884.9M385.06 1132.2V1150.6M478.67 866.5V884.9M478.67 1132.2V1150.6M572.27 866.5V884.9M572.27 1132.2V1150.6M665.87 866.5V884.9M665.87 1132.2V1150.6M759.48 866.5V884.9M759.48 1132.2V1150.6M853.08 866.5V884.9M853.08 1132.2V1150.6M946.69 866.5V884.9M946.69 1132.2V1150.6M1040.29 866.5V884.9M1040.29 1132.2V1150.6M1133.89 866.5V884.9M1133.89 1132.2V1150.6M95.05 899.8H113.45M1218.3 899.8H1236.7M95.05 940.1H113.45M1218.3 940.1H1236.7M95.05 980.4H113.45M1218.3 980.4H1236.7M95.05 1020.7H113.45M1218.3 1020.7H1236.7M95.05 1061H113.45M1218.3 1061H1236.7M95.05 1101.3H113.45M1218.3 1101.3H1236.7M95.05 1141.6H113.45M1218.3 1141.6H1236.7"/>
</g>
<rect x="706.5" y="248" width="67.5" height="60.2" fill="none" stroke="#2188e8" stroke-width="2.1" stroke-dasharray="4.3 2.4"/>
<rect x="525.8" y="840.2" width="66.5" height="60.3" fill="none" stroke="#2188e8" stroke-width="2.1" stroke-dasharray="4.3 2.4"/>
<rect x="726.4" y="829.9" width="66.7" height="60.6" fill="none" stroke="#2188e8" stroke-width="2.1" stroke-dasharray="4.3 2.4"/>
<line x1="734.8" y1="243.1" x2="759.97" y2="226.54" stroke="#2b0a0c" stroke-width="2.6"/>
<path d="M772.5 218.3L763.24 235.16L753.35 220.12Z" fill="#2b0a0c"/>
<line x1="559" y1="836.3" x2="566.4" y2="808.01" stroke="#2b0a0c" stroke-width="2.6"/>
<path d="M570.2 793.5L574.6 812.22L557.19 807.67Z" fill="#2b0a0c"/>
<line x1="795.6" y1="828.5" x2="826.2" y2="828.5" stroke="#2b0a0c" stroke-width="2.6"/>
<path d="M841.2 828.5L824.2 837.5L824.2 819.5Z" fill="#2b0a0c"/>
<text transform="translate(17.39 45.75) scale(0.9148 1)" font-family='"Liberation Sans", sans-serif' font-size="48.5" fill="#000" font-weight="bold">Time: 2.00 Ma</text>
<text transform="translate(149.81 110) scale(1.0057 1)" font-family='"Liberation Sans", sans-serif' font-size="51" fill="#000" font-style="italic">T</text>
<text transform="translate(181.91 117.5) scale(0.9092 1)" font-family='"Liberation Sans", sans-serif' font-size="40" fill="#000" font-style="italic">plume</text>
<text transform="translate(298.89 110) scale(0.9316 1)" font-family='"Liberation Sans", sans-serif' font-size="52.5" fill="#000">(K)</text>
<text transform="translate(53.18 175) scale(0.8457 1)" font-family='"Liberation Sans", sans-serif' font-size="42.5" fill="#000">1859.4</text>
<text transform="translate(205.73 175) scale(0.8846 1)" font-family='"Liberation Sans", sans-serif' font-size="42.5" fill="#000">2100</text>
<text transform="translate(349.02 175) scale(0.8671 1)" font-family='"Liberation Sans", sans-serif' font-size="42.5" fill="#000">2365.3</text>
<text transform="translate(616.16 36.4) scale(0.9195 1)" font-family='"DejaVu Sans", sans-serif' font-size="55" fill="#07062e" font-style="italic">ε</text>
<text transform="translate(643 45.2) scale(0.9304 1)" font-family='"DejaVu Sans", sans-serif' font-size="39" fill="#07062e" font-style="italic">p</text>
<text transform="translate(459.55 103.9) scale(1.0470 1)" font-family='"Liberation Serif", serif' font-size="43" fill="#07062e">0.0</text>
<text transform="translate(554.24 103.9) scale(1.0570 1)" font-family='"Liberation Serif", serif' font-size="43" fill="#07062e">0.2</text>
<text transform="translate(631.8 103.9) scale(1.0227 1)" font-family='"Liberation Serif", serif' font-size="43" fill="#07062e">0.4</text>
<text transform="translate(731.27 103.9) scale(1.0392 1)" font-family='"Liberation Serif", serif' font-size="43" fill="#07062e">0.7</text>
<text transform="translate(1239.1 55.4) scale(1.0613 1)" font-family='"Liberation Sans", sans-serif' font-size="72" fill="#000">(a)</text>
<text transform="translate(775.35 224.8) scale(1.0434 1)" font-family='"Liberation Sans", sans-serif' font-size="25" fill="#07062e" font-weight="bold" font-style="italic">Initiation of Eastern rift arm</text>
<text transform="translate(20.63 635.75) scale(0.9227 1)" font-family='"Liberation Sans", sans-serif' font-size="48.5" fill="#000" font-weight="bold">Time: 2.55 Ma</text>
<text transform="translate(153.23 700) scale(1.0227 1)" font-family='"Liberation Sans", sans-serif' font-size="51" fill="#000" font-style="italic">T</text>
<text transform="translate(186.42 707.5) scale(0.9185 1)" font-family='"Liberation Sans", sans-serif' font-size="40" fill="#000" font-style="italic">plume</text>
<text transform="translate(302.97 700) scale(0.9995 1)" font-family='"Liberation Sans", sans-serif' font-size="52.5" fill="#000">(K)</text>
<text transform="translate(56.23 765.2) scale(0.8601 1)" font-family='"Liberation Sans", sans-serif' font-size="42.5" fill="#000">1859.4</text>
<text transform="translate(210.17 765.2) scale(0.9165 1)" font-family='"Liberation Sans", sans-serif' font-size="42.5" fill="#000">2100</text>
<text transform="translate(354.62 765.2) scale(0.8897 1)" font-family='"Liberation Sans", sans-serif' font-size="42.5" fill="#000">2365.3</text>
<text transform="translate(591.12 635.2) scale(1.0895 1)" font-family='"DejaVu Sans", sans-serif' font-size="36" fill="#000" font-style="italic">η</text>
<text transform="translate(628.51 635.2) scale(1.1509 1)" font-family='"Liberation Sans", sans-serif' font-size="36" fill="#000">(pas)</text>
<text transform="translate(455.44 689.5) scale(0.8877 1)" font-family='"Liberation Sans", sans-serif' font-size="41.5" fill="#000">1.0e+20</text>
<text transform="translate(605.34 689.5) scale(0.8866 1)" font-family='"Liberation Sans", sans-serif' font-size="41.5" fill="#000">1e+22</text>
<text transform="translate(724.01 689.5) scale(0.8973 1)" font-family='"Liberation Sans", sans-serif' font-size="41.5" fill="#000">1.0e+24</text>
<text transform="translate(1246.71 650.7) scale(1.0734 1)" font-family='"Liberation Sans", sans-serif' font-size="66" fill="#000">(b)</text>
<text transform="translate(568.85 784.8) scale(1.0420 1)" font-family='"Liberation Sans", sans-serif' font-size="25" fill="#07062e" font-weight="bold" font-style="italic">Initiation of Western rift arm</text>
<text transform="translate(845.05 831.2) scale(1.0581 1)" font-family='"Liberation Sans", sans-serif' font-size="25" fill="#07062e" font-weight="bold" font-style="italic">Eastern arm reaching CB</text>
<text transform="translate(95.36 270.6) scale(0.9385 1)" font-family='"Liberation Sans", sans-serif' font-size="25.5" fill="#1c1c1c" font-style="italic">0</text>
<text transform="translate(94.8 579) scale(1.0000 1)" font-family='"Liberation Sans", sans-serif' font-size="25.5" fill="#1c1c1c" font-style="italic">0</text>
<text transform="translate(98.85 860.7) scale(0.9496 1)" font-family='"Liberation Sans", sans-serif' font-size="25.8" fill="#1c1c1c" font-style="italic">0</text>
<text transform="translate(98.85 1170.4) scale(0.9496 1)" font-family='"Liberation Sans", sans-serif' font-size="25.8" fill="#1c1c1c" font-style="italic">0</text>
<text transform="translate(155 270.6) scale(0.9000 1)" font-family='"Liberation Sans", sans-serif' font-size="25.5" fill="#1c1c1c" font-style="italic">250000</text>
<text transform="translate(154.5 579) scale(0.9094 1)" font-family='"Liberation Sans", sans-serif' font-size="25.5" fill="#1c1c1c" font-style="italic">250000</text>
<text transform="translate(159.2 860.7) scale(0.9001 1)" font-family='"Liberation Sans", sans-serif' font-size="25.8" fill="#1c1c1c" font-style="italic">250000</text>
<text transform="translate(159.2 1170.4) scale(0.9001 1)" font-family='"Liberation Sans", sans-serif' font-size="25.8" fill="#1c1c1c" font-style="italic">250000</text>
<text transform="translate(247.39 270.6) scale(0.9107 1)" font-family='"Liberation Sans", sans-serif' font-size="25.5" fill="#1c1c1c" font-style="italic">500000</text>
<text transform="translate(246.89 579) scale(0.9202 1)" font-family='"Liberation Sans", sans-serif' font-size="25.5" fill="#1c1c1c" font-style="italic">500000</text>
<text transform="translate(252.7 860.7) scale(0.9107 1)" font-family='"Liberation Sans", sans-serif' font-size="25.8" fill="#1c1c1c" font-style="italic">500000</text>
<text transform="translate(252.7 1170.4) scale(0.9107 1)" font-family='"Liberation Sans", sans-serif' font-size="25.8" fill="#1c1c1c" font-style="italic">500000</text>
<text transform="translate(338.53 270.6) scale(0.9279 1)" font-family='"Liberation Sans", sans-serif' font-size="25.5" fill="#1c1c1c" font-style="italic">750000</text>
<text transform="translate(338 579) scale(0.9377 1)" font-family='"Liberation Sans", sans-serif' font-size="25.5" fill="#1c1c1c" font-style="italic">750000</text>
<text transform="translate(344.94 860.7) scale(0.9277 1)" font-family='"Liberation Sans", sans-serif' font-size="25.8" fill="#1c1c1c" font-style="italic">750000</text>
<text transform="translate(344.94 1170.4) scale(0.9277 1)" font-family='"Liberation Sans", sans-serif' font-size="25.8" fill="#1c1c1c" font-style="italic">750000</text>
<text transform="translate(447.91 270.6) scale(0.8788 1)" font-family='"Liberation Sans", sans-serif' font-size="25.5" fill="#1c1c1c" font-style="italic">1e+6</text>
<text transform="translate(447.4 579) scale(0.8929 1)" font-family='"Liberation Sans", sans-serif' font-size="25.5" fill="#1c1c1c" font-style="italic">1e+6</text>
<text transform="translate(455.6 860.7) scale(0.8789 1)" font-family='"Liberation Sans", sans-serif' font-size="25.8" fill="#1c1c1c" font-style="italic">1e+6</text>
<text transform="translate(455.6 1170.4) scale(0.8789 1)" font-family='"Liberation Sans", sans-serif' font-size="25.8" fill="#1c1c1c" font-style="italic">1e+6</text>
<text transform="translate(523.4 270.6) scale(0.8967 1)" font-family='"Liberation Sans", sans-serif' font-size="25.5" fill="#1c1c1c" font-style="italic">1.25e+6</text>
<text transform="translate(522.9 579) scale(0.9054 1)" font-family='"Liberation Sans", sans-serif' font-size="25.5" fill="#1c1c1c" font-style="italic">1.25e+6</text>
<text transform="translate(531.99 860.7) scale(0.8977 1)" font-family='"Liberation Sans", sans-serif' font-size="25.8" fill="#1c1c1c" font-style="italic">1.25e+6</text>
<text transform="translate(531.99 1170.4) scale(0.8977 1)" font-family='"Liberation Sans", sans-serif' font-size="25.8" fill="#1c1c1c" font-style="italic">1.25e+6</text>
<text transform="translate(623.02 270.6) scale(0.8769 1)" font-family='"Liberation Sans", sans-serif' font-size="25.5" fill="#1c1c1c" font-style="italic">1.5e+6</text>
<text transform="translate(622.51 579) scale(0.8872 1)" font-family='"Liberation Sans", sans-serif' font-size="25.5" fill="#1c1c1c" font-style="italic">1.5e+6</text>
<text transform="translate(632.79 860.7) scale(0.8798 1)" font-family='"Liberation Sans", sans-serif' font-size="25.8" fill="#1c1c1c" font-style="italic">1.5e+6</text>
<text transform="translate(632.79 1170.4) scale(0.8798 1)" font-family='"Liberation Sans", sans-serif' font-size="25.8" fill="#1c1c1c" font-style="italic">1.5e+6</text>
<text transform="translate(709.81 270.6) scale(0.8815 1)" font-family='"Liberation Sans", sans-serif' font-size="25.5" fill="#1c1c1c" font-style="italic">1.75e+6</text>
<text transform="translate(709.31 579) scale(0.8902 1)" font-family='"Liberation Sans", sans-serif' font-size="25.5" fill="#1c1c1c" font-style="italic">1.75e+6</text>
<text transform="translate(720.62 860.7) scale(0.8824 1)" font-family='"Liberation Sans", sans-serif' font-size="25.8" fill="#1c1c1c" font-style="italic">1.75e+6</text>
<text transform="translate(720.62 1170.4) scale(0.8824 1)" font-family='"Liberation Sans", sans-serif' font-size="25.8" fill="#1c1c1c" font-style="italic">1.75e+6</text>
<text transform="translate(814 270.6) scale(0.9523 1)" font-family='"Liberation Sans", sans-serif' font-size="25.5" fill="#1c1c1c" font-style="italic">2e+6</text>
<text transform="translate(813.5 579) scale(0.9663 1)" font-family='"Liberation Sans", sans-serif' font-size="25.5" fill="#1c1c1c" font-style="italic">2e+6</text>
<text transform="translate(826.04 860.7) scale(0.9526 1)" font-family='"Liberation Sans", sans-serif' font-size="25.8" fill="#1c1c1c" font-style="italic">2e+6</text>
<text transform="translate(826.04 1170.4) scale(0.9526 1)" font-family='"Liberation Sans", sans-serif' font-size="25.8" fill="#1c1c1c" font-style="italic">2e+6</text>
<text transform="translate(890 270.6) scale(0.9281 1)" font-family='"Liberation Sans", sans-serif' font-size="25.5" fill="#1c1c1c" font-style="italic">2.25e+6</text>
<text transform="translate(889.5 579) scale(0.9367 1)" font-family='"Liberation Sans", sans-serif' font-size="25.5" fill="#1c1c1c" font-style="italic">2.25e+6</text>
<text transform="translate(902.94 860.7) scale(0.9291 1)" font-family='"Liberation Sans", sans-serif' font-size="25.8" fill="#1c1c1c" font-style="italic">2.25e+6</text>
<text transform="translate(902.94 1170.4) scale(0.9291 1)" font-family='"Liberation Sans", sans-serif' font-size="25.8" fill="#1c1c1c" font-style="italic">2.25e+6</text>
<text transform="translate(988 270.6) scale(0.9216 1)" font-family='"Liberation Sans", sans-serif' font-size="25.5" fill="#1c1c1c" font-style="italic">2.5e+6</text>
<text transform="translate(987.5 579) scale(0.9318 1)" font-family='"Liberation Sans", sans-serif' font-size="25.5" fill="#1c1c1c" font-style="italic">2.5e+6</text>
<text transform="translate(1002.11 860.7) scale(0.9247 1)" font-family='"Liberation Sans", sans-serif' font-size="25.8" fill="#1c1c1c" font-style="italic">2.5e+6</text>
<text transform="translate(1002.11 1170.4) scale(0.9247 1)" font-family='"Liberation Sans", sans-serif' font-size="25.8" fill="#1c1c1c" font-style="italic">2.5e+6</text>
<text transform="translate(1074.3 270.6) scale(0.9291 1)" font-family='"Liberation Sans", sans-serif' font-size="25.5" fill="#1c1c1c" font-style="italic">2.75e+6</text>
<text transform="translate(1073.8 579) scale(0.9378 1)" font-family='"Liberation Sans", sans-serif' font-size="25.5" fill="#1c1c1c" font-style="italic">2.75e+6</text>
<text transform="translate(1089.44 860.7) scale(0.9302 1)" font-family='"Liberation Sans", sans-serif' font-size="25.8" fill="#1c1c1c" font-style="italic">2.75e+6</text>
<text transform="translate(1089.44 1170.4) scale(0.9302 1)" font-family='"Liberation Sans", sans-serif' font-size="25.8" fill="#1c1c1c" font-style="italic">2.75e+6</text>
<text transform="translate(1183.27 270.6) scale(0.9424 1)" font-family='"Liberation Sans", sans-serif' font-size="25.5" fill="#1c1c1c" font-style="italic">3e+6</text>
<text transform="translate(1182.76 579) scale(0.9565 1)" font-family='"Liberation Sans", sans-serif' font-size="25.5" fill="#1c1c1c" font-style="italic">3e+6</text>
<text transform="translate(1199.71 860.7) scale(0.9425 1)" font-family='"Liberation Sans", sans-serif' font-size="25.8" fill="#1c1c1c" font-style="italic">3e+6</text>
<text transform="translate(1199.71 1170.4) scale(0.9425 1)" font-family='"Liberation Sans", sans-serif' font-size="25.8" fill="#1c1c1c" font-style="italic">3e+6</text>
<text transform="translate(13.33 318) scale(0.8789 1)" font-family='"Liberation Sans", sans-serif' font-size="26.3" fill="#1c1c1c">600000</text>
<text transform="translate(1218.61 318) scale(0.8906 1)" font-family='"Liberation Sans", sans-serif' font-size="26.3" fill="#1c1c1c">600000</text>
<text transform="translate(15.72 907.6) scale(0.8863 1)" font-family='"Liberation Sans", sans-serif' font-size="26.9" fill="#1c1c1c">600000</text>
<text transform="translate(1235.83 907.6) scale(0.8782 1)" font-family='"Liberation Sans", sans-serif' font-size="26.9" fill="#1c1c1c">600000</text>
<text transform="translate(13.62 358.03) scale(0.8755 1)" font-family='"Liberation Sans", sans-serif' font-size="26.3" fill="#1c1c1c">500000</text>
<text transform="translate(1218.91 358.03) scale(0.8872 1)" font-family='"Liberation Sans", sans-serif' font-size="26.3" fill="#1c1c1c">500000</text>
<text transform="translate(16.02 947.9) scale(0.8829 1)" font-family='"Liberation Sans", sans-serif' font-size="26.9" fill="#1c1c1c">500000</text>
<text transform="translate(1236.13 947.9) scale(0.8749 1)" font-family='"Liberation Sans", sans-serif' font-size="26.9" fill="#1c1c1c">500000</text>
<text transform="translate(13.92 398.06) scale(0.8721 1)" font-family='"Liberation Sans", sans-serif' font-size="26.3" fill="#1c1c1c">400000</text>
<text transform="translate(1219.21 398.06) scale(0.8837 1)" font-family='"Liberation Sans", sans-serif' font-size="26.3" fill="#1c1c1c">400000</text>
<text transform="translate(16.31 988.2) scale(0.8795 1)" font-family='"Liberation Sans", sans-serif' font-size="26.9" fill="#1c1c1c">400000</text>
<text transform="translate(1236.42 988.2) scale(0.8716 1)" font-family='"Liberation Sans", sans-serif' font-size="26.9" fill="#1c1c1c">400000</text>
<text transform="translate(13.62 438.09) scale(0.8755 1)" font-family='"Liberation Sans", sans-serif' font-size="26.3" fill="#1c1c1c">300000</text>
<text transform="translate(1218.91 438.09) scale(0.8872 1)" font-family='"Liberation Sans", sans-serif' font-size="26.3" fill="#1c1c1c">300000</text>
<text transform="translate(16.02 1028.5) scale(0.8829 1)" font-family='"Liberation Sans", sans-serif' font-size="26.9" fill="#1c1c1c">300000</text>
<text transform="translate(1236.13 1028.5) scale(0.8749 1)" font-family='"Liberation Sans", sans-serif' font-size="26.9" fill="#1c1c1c">300000</text>
<text transform="translate(13.33 478.12) scale(0.8789 1)" font-family='"Liberation Sans", sans-serif' font-size="26.3" fill="#1c1c1c">200000</text>
<text transform="translate(1218.61 478.12) scale(0.8906 1)" font-family='"Liberation Sans", sans-serif' font-size="26.3" fill="#1c1c1c">200000</text>
<text transform="translate(15.72 1068.8) scale(0.8863 1)" font-family='"Liberation Sans", sans-serif' font-size="26.9" fill="#1c1c1c">200000</text>
<text transform="translate(1235.83 1068.8) scale(0.8782 1)" font-family='"Liberation Sans", sans-serif' font-size="26.9" fill="#1c1c1c">200000</text>
<text transform="translate(16.82 518.15) scale(0.8386 1)" font-family='"Liberation Sans", sans-serif' font-size="26.3" fill="#1c1c1c">100000</text>
<text transform="translate(1221.08 518.15) scale(0.8622 1)" font-family='"Liberation Sans", sans-serif' font-size="26.3" fill="#1c1c1c">100000</text>
<text transform="translate(18.59 1109.1) scale(0.8538 1)" font-family='"Liberation Sans", sans-serif' font-size="26.9" fill="#1c1c1c">100000</text>
<text transform="translate(1238.81 1109.1) scale(0.8446 1)" font-family='"Liberation Sans", sans-serif' font-size="26.9" fill="#1c1c1c">100000</text>
<text transform="translate(77.59 558.18) scale(0.9079 1)" font-family='"Liberation Sans", sans-serif' font-size="26.3" fill="#1c1c1c">0</text>
<text transform="translate(1218.79 558.18) scale(0.9079 1)" font-family='"Liberation Sans", sans-serif' font-size="26.3" fill="#1c1c1c">0</text>
<text transform="translate(82.13 1149.4) scale(0.8692 1)" font-family='"Liberation Sans", sans-serif' font-size="26.9" fill="#1c1c1c">0</text>
<text transform="translate(1236.12 1149.4) scale(0.8846 1)" font-family='"Liberation Sans", sans-serif' font-size="26.9" fill="#1c1c1c">0</text>
</svg>
</body></html>
